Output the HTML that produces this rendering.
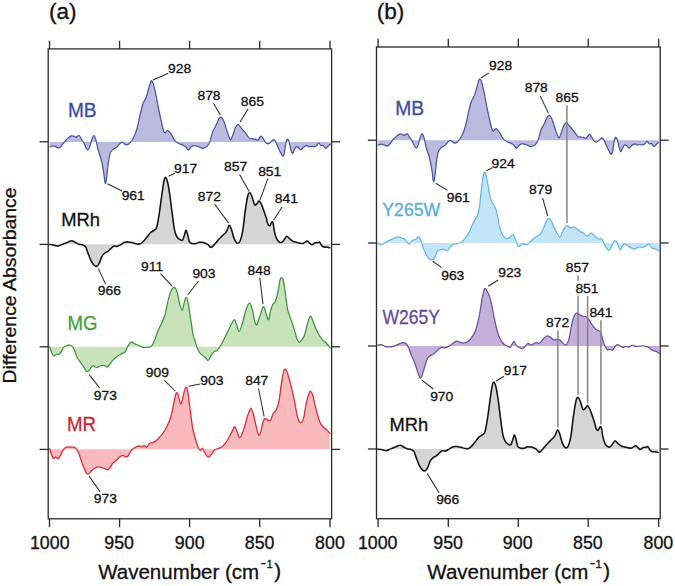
<!DOCTYPE html>
<html><head><meta charset="utf-8"><title>Difference spectra</title>
<style>html,body{margin:0;padding:0;background:#fff;}svg{display:block;font-family:"Liberation Sans",sans-serif;}</style>
</head><body>
<svg width="675" height="586" viewBox="0 0 675 586">
<rect width="100%" height="100%" fill="#ffffff"/>
<path d="M49.80,146.90C50.30,146.75 51.90,146.07 52.80,146.00C53.70,145.93 54.22,146.17 55.20,146.50C56.18,146.83 57.72,148.03 58.70,148.00C59.68,147.97 60.10,147.38 61.10,146.30C62.10,145.22 63.50,142.90 64.70,141.50C65.90,140.10 67.20,138.83 68.30,137.90C69.40,136.97 70.40,136.20 71.30,135.90C72.20,135.60 72.90,135.90 73.70,136.10C74.50,136.30 75.22,137.20 76.10,137.10C76.98,137.00 78.12,135.17 79.00,135.50C79.88,135.83 80.60,137.90 81.40,139.10C82.20,140.30 83.00,141.20 83.80,142.70C84.60,144.20 85.50,146.90 86.20,148.10C86.90,149.30 87.40,150.10 88.00,149.90C88.60,149.70 89.10,148.80 89.80,146.90C90.50,145.00 91.50,140.40 92.20,138.50C92.90,136.60 93.40,135.30 94.00,135.50C94.60,135.70 95.12,137.30 95.80,139.70C96.48,142.10 97.22,146.62 98.10,149.90C98.98,153.18 100.20,155.83 101.10,159.40C102.00,162.97 102.83,167.37 103.50,171.30C104.17,175.23 104.60,181.80 105.10,183.00C105.60,184.20 105.97,181.83 106.50,178.50C107.03,175.17 107.70,167.18 108.30,163.00C108.90,158.82 109.30,155.68 110.10,153.40C110.90,151.12 112.00,150.33 113.10,149.30C114.20,148.27 115.62,148.10 116.70,147.20C117.78,146.30 118.72,144.75 119.60,143.90C120.48,143.05 121.08,142.02 122.00,142.10C122.92,142.18 124.15,143.95 125.10,144.40C126.05,144.85 126.85,145.08 127.70,144.80C128.55,144.52 129.22,143.90 130.20,142.70C131.18,141.50 132.45,140.02 133.60,137.60C134.75,135.18 135.95,132.32 137.10,128.20C138.25,124.08 139.52,117.02 140.50,112.90C141.48,108.78 142.02,106.20 143.00,103.50C143.98,100.80 145.40,99.40 146.40,96.70C147.40,94.00 148.20,89.95 149.00,87.30C149.80,84.65 150.48,81.37 151.20,80.80C151.92,80.23 152.53,81.68 153.30,83.90C154.07,86.12 154.95,90.12 155.80,94.10C156.65,98.08 157.55,103.53 158.40,107.80C159.25,112.07 159.92,115.58 160.90,119.70C161.88,123.82 163.15,130.70 164.30,132.50C165.45,134.30 166.65,130.22 167.80,130.50C168.95,130.78 170.07,132.58 171.20,134.20C172.33,135.82 173.33,138.63 174.60,140.20C175.87,141.77 177.38,142.75 178.80,143.60C180.22,144.45 181.95,144.73 183.10,145.30C184.25,145.87 184.85,146.20 185.70,147.00C186.55,147.80 187.35,150.10 188.20,150.10C189.05,150.10 189.95,147.75 190.80,147.00C191.65,146.25 192.30,145.75 193.30,145.60C194.30,145.45 195.83,145.88 196.80,146.10C197.77,146.32 198.03,146.53 199.10,146.90C200.17,147.27 201.83,148.42 203.20,148.30C204.57,148.18 206.17,147.35 207.30,146.20C208.43,145.05 209.10,143.78 210.00,141.40C210.90,139.02 211.67,134.63 212.70,131.90C213.73,129.17 215.17,127.17 216.20,125.00C217.23,122.83 218.07,120.22 218.90,118.90C219.73,117.58 220.40,116.75 221.20,117.10C222.00,117.45 222.83,119.00 223.70,121.00C224.57,123.00 225.50,126.38 226.40,129.10C227.30,131.82 228.37,135.53 229.10,137.30C229.83,139.07 230.23,139.92 230.80,139.70C231.37,139.48 231.75,137.98 232.50,136.00C233.25,134.02 234.38,129.73 235.30,127.80C236.22,125.87 237.22,124.63 238.00,124.40C238.78,124.17 239.20,125.50 240.00,126.40C240.80,127.30 241.77,128.55 242.80,129.80C243.83,131.05 245.07,132.47 246.20,133.90C247.33,135.33 248.58,137.60 249.60,138.40C250.62,139.20 251.38,138.58 252.30,138.70C253.22,138.82 254.18,138.87 255.10,139.10C256.02,139.33 256.83,140.58 257.80,140.10C258.77,139.62 259.98,136.43 260.90,136.20C261.82,135.97 262.57,137.72 263.30,138.70C264.03,139.68 264.52,141.23 265.30,142.10C266.08,142.97 267.08,143.90 268.00,143.90C268.92,143.90 269.92,142.82 270.80,142.10C271.68,141.38 272.53,139.77 273.30,139.60C274.07,139.43 274.72,140.07 275.40,141.10C276.08,142.13 276.63,144.07 277.40,145.80C278.17,147.53 279.13,149.78 280.00,151.50C280.87,153.22 281.90,155.75 282.60,156.10C283.30,156.45 283.68,155.58 284.20,153.60C284.72,151.62 285.22,146.58 285.70,144.20C286.18,141.82 286.57,139.82 287.10,139.30C287.63,138.78 288.27,139.42 288.90,141.10C289.53,142.78 290.30,147.32 290.90,149.40C291.50,151.48 291.98,153.43 292.50,153.60C293.02,153.77 293.40,151.53 294.00,150.40C294.60,149.27 295.40,147.32 296.10,146.80C296.80,146.28 297.42,146.78 298.20,147.30C298.98,147.82 299.93,149.90 300.80,149.90C301.67,149.90 302.45,148.02 303.40,147.30C304.35,146.58 305.55,145.68 306.50,145.60C307.45,145.52 308.23,146.68 309.10,146.80C309.97,146.92 310.93,146.30 311.70,146.30C312.47,146.30 312.93,146.88 313.70,146.80C314.47,146.72 315.43,146.40 316.30,145.80C317.17,145.20 318.12,143.20 318.90,143.20C319.68,143.20 320.30,145.45 321.00,145.80C321.70,146.15 322.32,144.87 323.10,145.30C323.88,145.73 324.83,148.32 325.70,148.40C326.57,148.48 327.53,146.50 328.30,145.80C329.07,145.10 329.97,144.47 330.30,144.20L330.30,142.00L49.80,142.00Z" fill="#bdbadf" stroke="none"/>
<path d="M49.80,146.90C50.30,146.75 51.90,146.07 52.80,146.00C53.70,145.93 54.22,146.17 55.20,146.50C56.18,146.83 57.72,148.03 58.70,148.00C59.68,147.97 60.10,147.38 61.10,146.30C62.10,145.22 63.50,142.90 64.70,141.50C65.90,140.10 67.20,138.83 68.30,137.90C69.40,136.97 70.40,136.20 71.30,135.90C72.20,135.60 72.90,135.90 73.70,136.10C74.50,136.30 75.22,137.20 76.10,137.10C76.98,137.00 78.12,135.17 79.00,135.50C79.88,135.83 80.60,137.90 81.40,139.10C82.20,140.30 83.00,141.20 83.80,142.70C84.60,144.20 85.50,146.90 86.20,148.10C86.90,149.30 87.40,150.10 88.00,149.90C88.60,149.70 89.10,148.80 89.80,146.90C90.50,145.00 91.50,140.40 92.20,138.50C92.90,136.60 93.40,135.30 94.00,135.50C94.60,135.70 95.12,137.30 95.80,139.70C96.48,142.10 97.22,146.62 98.10,149.90C98.98,153.18 100.20,155.83 101.10,159.40C102.00,162.97 102.83,167.37 103.50,171.30C104.17,175.23 104.60,181.80 105.10,183.00C105.60,184.20 105.97,181.83 106.50,178.50C107.03,175.17 107.70,167.18 108.30,163.00C108.90,158.82 109.30,155.68 110.10,153.40C110.90,151.12 112.00,150.33 113.10,149.30C114.20,148.27 115.62,148.10 116.70,147.20C117.78,146.30 118.72,144.75 119.60,143.90C120.48,143.05 121.08,142.02 122.00,142.10C122.92,142.18 124.15,143.95 125.10,144.40C126.05,144.85 126.85,145.08 127.70,144.80C128.55,144.52 129.22,143.90 130.20,142.70C131.18,141.50 132.45,140.02 133.60,137.60C134.75,135.18 135.95,132.32 137.10,128.20C138.25,124.08 139.52,117.02 140.50,112.90C141.48,108.78 142.02,106.20 143.00,103.50C143.98,100.80 145.40,99.40 146.40,96.70C147.40,94.00 148.20,89.95 149.00,87.30C149.80,84.65 150.48,81.37 151.20,80.80C151.92,80.23 152.53,81.68 153.30,83.90C154.07,86.12 154.95,90.12 155.80,94.10C156.65,98.08 157.55,103.53 158.40,107.80C159.25,112.07 159.92,115.58 160.90,119.70C161.88,123.82 163.15,130.70 164.30,132.50C165.45,134.30 166.65,130.22 167.80,130.50C168.95,130.78 170.07,132.58 171.20,134.20C172.33,135.82 173.33,138.63 174.60,140.20C175.87,141.77 177.38,142.75 178.80,143.60C180.22,144.45 181.95,144.73 183.10,145.30C184.25,145.87 184.85,146.20 185.70,147.00C186.55,147.80 187.35,150.10 188.20,150.10C189.05,150.10 189.95,147.75 190.80,147.00C191.65,146.25 192.30,145.75 193.30,145.60C194.30,145.45 195.83,145.88 196.80,146.10C197.77,146.32 198.03,146.53 199.10,146.90C200.17,147.27 201.83,148.42 203.20,148.30C204.57,148.18 206.17,147.35 207.30,146.20C208.43,145.05 209.10,143.78 210.00,141.40C210.90,139.02 211.67,134.63 212.70,131.90C213.73,129.17 215.17,127.17 216.20,125.00C217.23,122.83 218.07,120.22 218.90,118.90C219.73,117.58 220.40,116.75 221.20,117.10C222.00,117.45 222.83,119.00 223.70,121.00C224.57,123.00 225.50,126.38 226.40,129.10C227.30,131.82 228.37,135.53 229.10,137.30C229.83,139.07 230.23,139.92 230.80,139.70C231.37,139.48 231.75,137.98 232.50,136.00C233.25,134.02 234.38,129.73 235.30,127.80C236.22,125.87 237.22,124.63 238.00,124.40C238.78,124.17 239.20,125.50 240.00,126.40C240.80,127.30 241.77,128.55 242.80,129.80C243.83,131.05 245.07,132.47 246.20,133.90C247.33,135.33 248.58,137.60 249.60,138.40C250.62,139.20 251.38,138.58 252.30,138.70C253.22,138.82 254.18,138.87 255.10,139.10C256.02,139.33 256.83,140.58 257.80,140.10C258.77,139.62 259.98,136.43 260.90,136.20C261.82,135.97 262.57,137.72 263.30,138.70C264.03,139.68 264.52,141.23 265.30,142.10C266.08,142.97 267.08,143.90 268.00,143.90C268.92,143.90 269.92,142.82 270.80,142.10C271.68,141.38 272.53,139.77 273.30,139.60C274.07,139.43 274.72,140.07 275.40,141.10C276.08,142.13 276.63,144.07 277.40,145.80C278.17,147.53 279.13,149.78 280.00,151.50C280.87,153.22 281.90,155.75 282.60,156.10C283.30,156.45 283.68,155.58 284.20,153.60C284.72,151.62 285.22,146.58 285.70,144.20C286.18,141.82 286.57,139.82 287.10,139.30C287.63,138.78 288.27,139.42 288.90,141.10C289.53,142.78 290.30,147.32 290.90,149.40C291.50,151.48 291.98,153.43 292.50,153.60C293.02,153.77 293.40,151.53 294.00,150.40C294.60,149.27 295.40,147.32 296.10,146.80C296.80,146.28 297.42,146.78 298.20,147.30C298.98,147.82 299.93,149.90 300.80,149.90C301.67,149.90 302.45,148.02 303.40,147.30C304.35,146.58 305.55,145.68 306.50,145.60C307.45,145.52 308.23,146.68 309.10,146.80C309.97,146.92 310.93,146.30 311.70,146.30C312.47,146.30 312.93,146.88 313.70,146.80C314.47,146.72 315.43,146.40 316.30,145.80C317.17,145.20 318.12,143.20 318.90,143.20C319.68,143.20 320.30,145.45 321.00,145.80C321.70,146.15 322.32,144.87 323.10,145.30C323.88,145.73 324.83,148.32 325.70,148.40C326.57,148.48 327.53,146.50 328.30,145.80C329.07,145.10 329.97,144.47 330.30,144.20" fill="none" stroke="#4250a2" stroke-width="1.20" stroke-linejoin="round" stroke-linecap="round"/>
<path d="M49.50,244.50C50.15,244.58 51.98,244.73 53.40,245.00C54.82,245.27 56.60,246.18 58.00,246.10C59.40,246.02 60.40,245.07 61.80,244.50C63.20,243.93 64.73,243.33 66.40,242.70C68.07,242.07 70.38,240.78 71.80,240.70C73.22,240.62 73.75,241.62 74.90,242.20C76.05,242.78 77.43,243.77 78.70,244.20C79.97,244.63 81.35,244.37 82.50,244.80C83.65,245.23 84.70,245.43 85.60,246.80C86.50,248.17 87.00,250.68 87.90,253.00C88.80,255.32 89.97,258.65 91.00,260.70C92.03,262.75 93.13,264.37 94.10,265.30C95.07,266.23 95.92,266.68 96.80,266.30C97.68,265.92 98.58,264.58 99.40,263.00C100.22,261.42 100.80,258.47 101.70,256.80C102.60,255.13 103.77,253.90 104.80,253.00C105.83,252.10 106.87,252.17 107.90,251.40C108.93,250.63 109.98,249.28 111.00,248.40C112.02,247.52 112.98,246.42 114.00,246.10C115.02,245.78 115.95,246.77 117.10,246.50C118.25,246.23 119.62,245.22 120.90,244.50C122.18,243.78 123.55,242.63 124.80,242.20C126.05,241.77 127.08,241.82 128.40,241.90C129.72,241.98 131.28,242.37 132.70,242.70C134.12,243.03 135.62,243.70 136.90,243.90C138.18,244.10 139.25,244.38 140.40,243.90C141.55,243.42 142.67,242.18 143.80,241.00C144.93,239.82 146.07,238.22 147.20,236.80C148.33,235.38 149.47,233.58 150.60,232.50C151.73,231.42 153.00,231.15 154.00,230.30C155.00,229.45 155.75,230.02 156.60,227.40C157.45,224.78 158.25,219.87 159.10,214.60C159.95,209.33 160.90,201.35 161.70,195.80C162.50,190.25 163.25,184.33 163.90,181.30C164.55,178.27 164.98,177.45 165.60,177.60C166.22,177.75 166.92,179.45 167.60,182.20C168.28,184.95 168.98,189.27 169.70,194.10C170.42,198.93 171.10,205.23 171.90,211.20C172.70,217.17 173.65,225.63 174.50,229.90C175.35,234.17 176.15,235.23 177.00,236.80C177.85,238.37 178.68,238.73 179.60,239.30C180.52,239.87 181.65,241.05 182.50,240.20C183.35,239.35 184.10,235.85 184.70,234.20C185.30,232.55 185.58,230.15 186.10,230.30C186.62,230.45 187.23,233.17 187.80,235.10C188.37,237.03 188.73,240.48 189.50,241.90C190.27,243.32 191.35,243.32 192.40,243.60C193.45,243.88 194.67,243.83 195.80,243.60C196.93,243.37 198.20,242.40 199.20,242.20C200.20,242.00 201.10,242.37 201.80,242.40C202.50,242.43 202.42,242.07 203.40,242.40C204.38,242.73 206.42,243.55 207.70,244.40C208.98,245.25 209.97,247.50 211.10,247.50C212.23,247.50 213.22,245.77 214.50,244.40C215.78,243.03 217.38,240.85 218.80,239.30C220.22,237.75 221.73,236.38 223.00,235.10C224.27,233.82 225.35,233.23 226.40,231.60C227.45,229.97 228.43,225.58 229.30,225.30C230.17,225.02 230.80,227.70 231.60,229.90C232.40,232.10 233.17,236.28 234.10,238.50C235.03,240.72 236.20,242.78 237.20,243.20C238.20,243.62 239.20,242.93 240.10,241.00C241.00,239.07 241.75,236.57 242.60,231.60C243.45,226.63 244.33,217.17 245.20,211.20C246.07,205.23 247.03,198.87 247.80,195.80C248.57,192.73 249.10,192.65 249.80,192.80C250.50,192.95 251.20,194.72 252.00,196.70C252.80,198.68 253.75,203.57 254.60,204.70C255.45,205.83 256.33,204.13 257.10,203.50C257.87,202.87 258.48,200.75 259.20,200.90C259.92,201.05 260.60,202.68 261.40,204.40C262.20,206.12 263.15,208.80 264.00,211.20C264.85,213.60 265.88,216.72 266.50,218.80C267.12,220.88 267.15,222.55 267.70,223.70C268.25,224.85 269.12,225.98 269.80,225.70C270.48,225.42 271.23,222.33 271.80,222.00C272.37,221.67 272.75,222.07 273.20,223.70C273.65,225.33 273.93,229.30 274.50,231.80C275.07,234.30 275.80,236.98 276.60,238.70C277.40,240.42 278.38,241.53 279.30,242.10C280.22,242.67 281.18,242.67 282.10,242.10C283.02,241.53 284.02,239.68 284.80,238.70C285.58,237.72 286.00,236.20 286.80,236.20C287.60,236.20 288.57,237.83 289.60,238.70C290.63,239.57 291.87,240.80 293.00,241.40C294.13,242.00 295.27,242.00 296.40,242.30C297.53,242.60 298.67,243.02 299.80,243.20C300.93,243.38 301.95,243.75 303.20,243.40C304.45,243.05 306.28,241.20 307.30,241.10C308.32,241.00 308.50,242.18 309.30,242.80C310.10,243.42 311.18,244.80 312.10,244.80C313.02,244.80 313.90,243.13 314.80,242.80C315.70,242.47 316.70,242.92 317.50,242.80C318.30,242.68 318.92,241.65 319.60,242.10C320.28,242.55 320.92,244.67 321.60,245.50C322.28,246.33 322.90,246.83 323.70,247.10C324.50,247.37 325.38,246.98 326.40,247.10C327.42,247.22 329.23,247.68 329.80,247.80L329.80,244.30L49.50,244.30Z" fill="#d5d5d5" stroke="none"/>
<path d="M49.50,244.50C50.15,244.58 51.98,244.73 53.40,245.00C54.82,245.27 56.60,246.18 58.00,246.10C59.40,246.02 60.40,245.07 61.80,244.50C63.20,243.93 64.73,243.33 66.40,242.70C68.07,242.07 70.38,240.78 71.80,240.70C73.22,240.62 73.75,241.62 74.90,242.20C76.05,242.78 77.43,243.77 78.70,244.20C79.97,244.63 81.35,244.37 82.50,244.80C83.65,245.23 84.70,245.43 85.60,246.80C86.50,248.17 87.00,250.68 87.90,253.00C88.80,255.32 89.97,258.65 91.00,260.70C92.03,262.75 93.13,264.37 94.10,265.30C95.07,266.23 95.92,266.68 96.80,266.30C97.68,265.92 98.58,264.58 99.40,263.00C100.22,261.42 100.80,258.47 101.70,256.80C102.60,255.13 103.77,253.90 104.80,253.00C105.83,252.10 106.87,252.17 107.90,251.40C108.93,250.63 109.98,249.28 111.00,248.40C112.02,247.52 112.98,246.42 114.00,246.10C115.02,245.78 115.95,246.77 117.10,246.50C118.25,246.23 119.62,245.22 120.90,244.50C122.18,243.78 123.55,242.63 124.80,242.20C126.05,241.77 127.08,241.82 128.40,241.90C129.72,241.98 131.28,242.37 132.70,242.70C134.12,243.03 135.62,243.70 136.90,243.90C138.18,244.10 139.25,244.38 140.40,243.90C141.55,243.42 142.67,242.18 143.80,241.00C144.93,239.82 146.07,238.22 147.20,236.80C148.33,235.38 149.47,233.58 150.60,232.50C151.73,231.42 153.00,231.15 154.00,230.30C155.00,229.45 155.75,230.02 156.60,227.40C157.45,224.78 158.25,219.87 159.10,214.60C159.95,209.33 160.90,201.35 161.70,195.80C162.50,190.25 163.25,184.33 163.90,181.30C164.55,178.27 164.98,177.45 165.60,177.60C166.22,177.75 166.92,179.45 167.60,182.20C168.28,184.95 168.98,189.27 169.70,194.10C170.42,198.93 171.10,205.23 171.90,211.20C172.70,217.17 173.65,225.63 174.50,229.90C175.35,234.17 176.15,235.23 177.00,236.80C177.85,238.37 178.68,238.73 179.60,239.30C180.52,239.87 181.65,241.05 182.50,240.20C183.35,239.35 184.10,235.85 184.70,234.20C185.30,232.55 185.58,230.15 186.10,230.30C186.62,230.45 187.23,233.17 187.80,235.10C188.37,237.03 188.73,240.48 189.50,241.90C190.27,243.32 191.35,243.32 192.40,243.60C193.45,243.88 194.67,243.83 195.80,243.60C196.93,243.37 198.20,242.40 199.20,242.20C200.20,242.00 201.10,242.37 201.80,242.40C202.50,242.43 202.42,242.07 203.40,242.40C204.38,242.73 206.42,243.55 207.70,244.40C208.98,245.25 209.97,247.50 211.10,247.50C212.23,247.50 213.22,245.77 214.50,244.40C215.78,243.03 217.38,240.85 218.80,239.30C220.22,237.75 221.73,236.38 223.00,235.10C224.27,233.82 225.35,233.23 226.40,231.60C227.45,229.97 228.43,225.58 229.30,225.30C230.17,225.02 230.80,227.70 231.60,229.90C232.40,232.10 233.17,236.28 234.10,238.50C235.03,240.72 236.20,242.78 237.20,243.20C238.20,243.62 239.20,242.93 240.10,241.00C241.00,239.07 241.75,236.57 242.60,231.60C243.45,226.63 244.33,217.17 245.20,211.20C246.07,205.23 247.03,198.87 247.80,195.80C248.57,192.73 249.10,192.65 249.80,192.80C250.50,192.95 251.20,194.72 252.00,196.70C252.80,198.68 253.75,203.57 254.60,204.70C255.45,205.83 256.33,204.13 257.10,203.50C257.87,202.87 258.48,200.75 259.20,200.90C259.92,201.05 260.60,202.68 261.40,204.40C262.20,206.12 263.15,208.80 264.00,211.20C264.85,213.60 265.88,216.72 266.50,218.80C267.12,220.88 267.15,222.55 267.70,223.70C268.25,224.85 269.12,225.98 269.80,225.70C270.48,225.42 271.23,222.33 271.80,222.00C272.37,221.67 272.75,222.07 273.20,223.70C273.65,225.33 273.93,229.30 274.50,231.80C275.07,234.30 275.80,236.98 276.60,238.70C277.40,240.42 278.38,241.53 279.30,242.10C280.22,242.67 281.18,242.67 282.10,242.10C283.02,241.53 284.02,239.68 284.80,238.70C285.58,237.72 286.00,236.20 286.80,236.20C287.60,236.20 288.57,237.83 289.60,238.70C290.63,239.57 291.87,240.80 293.00,241.40C294.13,242.00 295.27,242.00 296.40,242.30C297.53,242.60 298.67,243.02 299.80,243.20C300.93,243.38 301.95,243.75 303.20,243.40C304.45,243.05 306.28,241.20 307.30,241.10C308.32,241.00 308.50,242.18 309.30,242.80C310.10,243.42 311.18,244.80 312.10,244.80C313.02,244.80 313.90,243.13 314.80,242.80C315.70,242.47 316.70,242.92 317.50,242.80C318.30,242.68 318.92,241.65 319.60,242.10C320.28,242.55 320.92,244.67 321.60,245.50C322.28,246.33 322.90,246.83 323.70,247.10C324.50,247.37 325.38,246.98 326.40,247.10C327.42,247.22 329.23,247.68 329.80,247.80" fill="none" stroke="#111111" stroke-width="1.55" stroke-linejoin="round" stroke-linecap="round"/>
<path d="M49.80,346.80C50.13,347.83 51.08,351.47 51.80,353.00C52.52,354.53 53.33,355.83 54.10,356.00C54.87,356.17 55.63,354.25 56.40,354.00C57.17,353.75 57.92,354.80 58.70,354.50C59.48,354.20 60.32,353.35 61.10,352.20C61.88,351.05 62.52,348.67 63.40,347.60C64.28,346.53 65.38,346.23 66.40,345.80C67.42,345.37 68.47,344.83 69.50,345.00C70.53,345.17 71.70,345.73 72.60,346.80C73.50,347.87 74.13,349.60 74.90,351.40C75.67,353.20 76.32,355.80 77.20,357.60C78.08,359.40 79.18,360.80 80.20,362.20C81.22,363.60 82.27,364.47 83.30,366.00C84.33,367.53 85.50,370.58 86.40,371.40C87.30,372.22 87.93,371.53 88.70,370.90C89.47,370.27 90.23,368.47 91.00,367.60C91.77,366.73 92.40,365.70 93.30,365.70C94.20,365.70 95.38,367.50 96.40,367.60C97.42,367.70 98.38,366.68 99.40,366.30C100.42,365.92 101.47,365.35 102.50,365.30C103.53,365.25 104.83,365.70 105.60,366.00C106.37,366.30 106.47,367.35 107.10,367.10C107.73,366.85 108.50,365.57 109.40,364.50C110.30,363.43 111.47,361.85 112.50,360.70C113.53,359.55 114.45,358.55 115.60,357.60C116.75,356.65 118.13,355.77 119.40,355.00C120.67,354.23 122.27,353.48 123.20,353.00C124.13,352.52 124.13,353.38 125.00,352.10C125.87,350.82 127.32,347.00 128.40,345.30C129.48,343.60 130.50,342.18 131.50,341.90C132.50,341.62 133.22,343.03 134.40,343.60C135.58,344.17 137.18,344.68 138.60,345.30C140.02,345.92 141.47,346.97 142.90,347.30C144.33,347.63 145.78,347.50 147.20,347.30C148.62,347.10 150.12,347.43 151.40,346.10C152.68,344.77 153.75,342.00 154.90,339.30C156.05,336.60 157.17,332.60 158.30,329.90C159.43,327.20 160.57,325.65 161.70,323.10C162.83,320.55 164.12,318.02 165.10,314.60C166.08,311.18 166.60,306.58 167.60,302.60C168.60,298.62 170.02,293.25 171.10,290.70C172.18,288.15 173.12,287.15 174.10,287.30C175.08,287.45 176.08,288.90 177.00,291.60C177.92,294.30 178.75,300.38 179.60,303.50C180.45,306.62 181.40,310.15 182.10,310.30C182.80,310.45 183.17,306.53 183.80,304.40C184.43,302.27 185.18,297.80 185.90,297.50C186.62,297.20 187.30,298.90 188.10,302.60C188.90,306.30 189.85,314.28 190.70,319.70C191.55,325.12 192.48,331.58 193.20,335.10C193.92,338.62 194.23,338.45 195.00,340.80C195.77,343.15 196.87,347.02 197.80,349.20C198.73,351.38 199.50,352.65 200.60,353.90C201.70,355.15 203.15,355.60 204.40,356.70C205.65,357.80 207.00,360.65 208.10,360.50C209.20,360.35 210.05,357.22 211.00,355.80C211.95,354.38 212.72,352.95 213.80,352.00C214.88,351.05 216.25,351.35 217.50,350.10C218.75,348.85 220.05,346.68 221.30,344.50C222.55,342.32 223.75,339.50 225.00,337.00C226.25,334.50 227.70,331.70 228.80,329.50C229.90,327.30 230.67,325.43 231.60,323.80C232.53,322.17 233.55,319.53 234.40,319.70C235.25,319.87 235.92,322.85 236.70,324.80C237.48,326.75 238.22,331.40 239.10,331.40C239.98,331.40 240.90,328.25 242.00,324.80C243.10,321.35 244.45,314.30 245.70,310.70C246.95,307.10 248.40,303.35 249.50,303.20C250.60,303.05 251.22,306.20 252.30,309.80C253.38,313.40 254.75,323.72 256.00,324.80C257.25,325.88 258.55,319.33 259.80,316.30C261.05,313.27 262.42,306.90 263.50,306.60C264.58,306.30 265.47,312.32 266.30,314.50C267.13,316.68 267.80,320.27 268.50,319.70C269.20,319.13 269.82,313.60 270.50,311.10C271.18,308.60 271.75,306.40 272.60,304.70C273.45,303.00 274.67,303.23 275.60,300.90C276.53,298.57 277.48,294.10 278.20,290.70C278.92,287.30 279.33,282.68 279.90,280.50C280.47,278.32 281.03,277.60 281.60,277.60C282.17,277.60 282.73,278.32 283.30,280.50C283.87,282.68 284.28,285.88 285.00,290.70C285.72,295.52 286.60,304.57 287.60,309.40C288.60,314.23 289.87,316.28 291.00,319.70C292.13,323.12 293.42,326.78 294.40,329.90C295.38,333.02 296.05,336.33 296.90,338.40C297.75,340.47 298.63,342.15 299.50,342.30C300.37,342.45 301.25,340.52 302.10,339.30C302.95,338.08 303.75,337.42 304.60,335.00C305.45,332.58 306.27,327.93 307.20,324.80C308.13,321.67 309.22,316.77 310.20,316.20C311.18,315.63 312.18,319.40 313.10,321.40C314.02,323.40 314.70,325.93 315.70,328.20C316.70,330.47 317.97,333.07 319.10,335.00C320.23,336.93 321.37,338.52 322.50,339.80C323.63,341.08 324.62,341.37 325.90,342.70C327.18,344.03 329.48,346.95 330.20,347.80L330.20,346.80L49.80,346.80Z" fill="#c8e3b9" stroke="none"/>
<path d="M49.80,346.80C50.13,347.83 51.08,351.47 51.80,353.00C52.52,354.53 53.33,355.83 54.10,356.00C54.87,356.17 55.63,354.25 56.40,354.00C57.17,353.75 57.92,354.80 58.70,354.50C59.48,354.20 60.32,353.35 61.10,352.20C61.88,351.05 62.52,348.67 63.40,347.60C64.28,346.53 65.38,346.23 66.40,345.80C67.42,345.37 68.47,344.83 69.50,345.00C70.53,345.17 71.70,345.73 72.60,346.80C73.50,347.87 74.13,349.60 74.90,351.40C75.67,353.20 76.32,355.80 77.20,357.60C78.08,359.40 79.18,360.80 80.20,362.20C81.22,363.60 82.27,364.47 83.30,366.00C84.33,367.53 85.50,370.58 86.40,371.40C87.30,372.22 87.93,371.53 88.70,370.90C89.47,370.27 90.23,368.47 91.00,367.60C91.77,366.73 92.40,365.70 93.30,365.70C94.20,365.70 95.38,367.50 96.40,367.60C97.42,367.70 98.38,366.68 99.40,366.30C100.42,365.92 101.47,365.35 102.50,365.30C103.53,365.25 104.83,365.70 105.60,366.00C106.37,366.30 106.47,367.35 107.10,367.10C107.73,366.85 108.50,365.57 109.40,364.50C110.30,363.43 111.47,361.85 112.50,360.70C113.53,359.55 114.45,358.55 115.60,357.60C116.75,356.65 118.13,355.77 119.40,355.00C120.67,354.23 122.27,353.48 123.20,353.00C124.13,352.52 124.13,353.38 125.00,352.10C125.87,350.82 127.32,347.00 128.40,345.30C129.48,343.60 130.50,342.18 131.50,341.90C132.50,341.62 133.22,343.03 134.40,343.60C135.58,344.17 137.18,344.68 138.60,345.30C140.02,345.92 141.47,346.97 142.90,347.30C144.33,347.63 145.78,347.50 147.20,347.30C148.62,347.10 150.12,347.43 151.40,346.10C152.68,344.77 153.75,342.00 154.90,339.30C156.05,336.60 157.17,332.60 158.30,329.90C159.43,327.20 160.57,325.65 161.70,323.10C162.83,320.55 164.12,318.02 165.10,314.60C166.08,311.18 166.60,306.58 167.60,302.60C168.60,298.62 170.02,293.25 171.10,290.70C172.18,288.15 173.12,287.15 174.10,287.30C175.08,287.45 176.08,288.90 177.00,291.60C177.92,294.30 178.75,300.38 179.60,303.50C180.45,306.62 181.40,310.15 182.10,310.30C182.80,310.45 183.17,306.53 183.80,304.40C184.43,302.27 185.18,297.80 185.90,297.50C186.62,297.20 187.30,298.90 188.10,302.60C188.90,306.30 189.85,314.28 190.70,319.70C191.55,325.12 192.48,331.58 193.20,335.10C193.92,338.62 194.23,338.45 195.00,340.80C195.77,343.15 196.87,347.02 197.80,349.20C198.73,351.38 199.50,352.65 200.60,353.90C201.70,355.15 203.15,355.60 204.40,356.70C205.65,357.80 207.00,360.65 208.10,360.50C209.20,360.35 210.05,357.22 211.00,355.80C211.95,354.38 212.72,352.95 213.80,352.00C214.88,351.05 216.25,351.35 217.50,350.10C218.75,348.85 220.05,346.68 221.30,344.50C222.55,342.32 223.75,339.50 225.00,337.00C226.25,334.50 227.70,331.70 228.80,329.50C229.90,327.30 230.67,325.43 231.60,323.80C232.53,322.17 233.55,319.53 234.40,319.70C235.25,319.87 235.92,322.85 236.70,324.80C237.48,326.75 238.22,331.40 239.10,331.40C239.98,331.40 240.90,328.25 242.00,324.80C243.10,321.35 244.45,314.30 245.70,310.70C246.95,307.10 248.40,303.35 249.50,303.20C250.60,303.05 251.22,306.20 252.30,309.80C253.38,313.40 254.75,323.72 256.00,324.80C257.25,325.88 258.55,319.33 259.80,316.30C261.05,313.27 262.42,306.90 263.50,306.60C264.58,306.30 265.47,312.32 266.30,314.50C267.13,316.68 267.80,320.27 268.50,319.70C269.20,319.13 269.82,313.60 270.50,311.10C271.18,308.60 271.75,306.40 272.60,304.70C273.45,303.00 274.67,303.23 275.60,300.90C276.53,298.57 277.48,294.10 278.20,290.70C278.92,287.30 279.33,282.68 279.90,280.50C280.47,278.32 281.03,277.60 281.60,277.60C282.17,277.60 282.73,278.32 283.30,280.50C283.87,282.68 284.28,285.88 285.00,290.70C285.72,295.52 286.60,304.57 287.60,309.40C288.60,314.23 289.87,316.28 291.00,319.70C292.13,323.12 293.42,326.78 294.40,329.90C295.38,333.02 296.05,336.33 296.90,338.40C297.75,340.47 298.63,342.15 299.50,342.30C300.37,342.45 301.25,340.52 302.10,339.30C302.95,338.08 303.75,337.42 304.60,335.00C305.45,332.58 306.27,327.93 307.20,324.80C308.13,321.67 309.22,316.77 310.20,316.20C311.18,315.63 312.18,319.40 313.10,321.40C314.02,323.40 314.70,325.93 315.70,328.20C316.70,330.47 317.97,333.07 319.10,335.00C320.23,336.93 321.37,338.52 322.50,339.80C323.63,341.08 324.62,341.37 325.90,342.70C327.18,344.03 329.48,346.95 330.20,347.80" fill="none" stroke="#3b943b" stroke-width="1.25" stroke-linejoin="round" stroke-linecap="round"/>
<path d="M49.70,448.60C49.98,449.60 50.77,452.95 51.40,454.60C52.03,456.25 52.78,458.08 53.50,458.50C54.22,458.92 54.92,457.05 55.70,457.10C56.48,457.15 57.35,459.22 58.20,458.80C59.05,458.38 59.80,456.30 60.80,454.60C61.80,452.90 63.07,449.88 64.20,448.60C65.33,447.32 66.32,447.15 67.60,446.90C68.88,446.65 70.62,446.95 71.90,447.10C73.18,447.25 74.17,446.83 75.30,447.80C76.43,448.77 77.57,450.35 78.70,452.90C79.83,455.45 80.97,459.98 82.10,463.10C83.23,466.22 84.50,469.75 85.50,471.60C86.50,473.45 87.10,474.33 88.10,474.20C89.10,474.07 90.37,471.80 91.50,470.80C92.63,469.80 93.77,468.85 94.90,468.20C96.03,467.55 97.02,466.95 98.30,466.90C99.58,466.85 101.32,467.53 102.60,467.90C103.88,468.27 105.10,468.77 106.00,469.10C106.90,469.43 107.28,470.18 108.00,469.90C108.72,469.62 109.50,468.53 110.30,467.40C111.10,466.27 111.82,464.23 112.80,463.10C113.78,461.97 115.07,461.60 116.20,460.60C117.33,459.60 118.45,457.97 119.60,457.10C120.75,456.23 122.20,455.47 123.10,455.40C124.00,455.33 124.22,456.57 125.00,456.70C125.78,456.83 126.70,457.30 127.80,456.20C128.90,455.10 130.35,451.58 131.60,450.10C132.85,448.62 134.05,447.98 135.30,447.30C136.55,446.62 138.00,446.08 139.10,446.00C140.20,445.92 141.05,446.90 141.90,446.80C142.75,446.70 143.42,445.32 144.20,445.40C144.98,445.48 145.73,447.60 146.60,447.30C147.47,447.00 148.37,444.38 149.40,443.60C150.43,442.82 151.70,443.07 152.80,442.60C153.90,442.13 154.85,441.73 156.00,440.80C157.15,439.87 158.45,438.42 159.70,437.00C160.95,435.58 162.23,434.18 163.50,432.30C164.77,430.42 166.05,428.37 167.30,425.70C168.55,423.03 169.92,420.05 171.00,416.30C172.08,412.55 172.95,407.02 173.80,403.20C174.65,399.38 175.38,394.82 176.10,393.40C176.82,391.98 177.32,392.92 178.10,394.70C178.88,396.48 179.95,403.93 180.80,404.10C181.65,404.27 182.42,398.42 183.20,395.70C183.98,392.98 184.78,388.75 185.50,387.80C186.22,386.85 186.78,386.80 187.50,390.00C188.22,393.20 188.95,400.73 189.80,407.00C190.65,413.27 191.67,422.28 192.60,427.60C193.53,432.92 194.53,435.77 195.40,438.90C196.27,442.03 196.98,444.47 197.80,446.40C198.62,448.33 199.52,450.18 200.30,450.50C201.08,450.82 201.67,447.73 202.50,448.30C203.33,448.87 204.30,452.40 205.30,453.90C206.30,455.40 207.40,457.30 208.50,457.30C209.60,457.30 210.87,455.10 211.90,453.90C212.93,452.70 213.60,451.03 214.70,450.10C215.80,449.17 217.25,448.92 218.50,448.30C219.75,447.68 220.95,447.40 222.20,446.40C223.45,445.40 224.75,444.02 226.00,442.30C227.25,440.58 228.60,438.08 229.70,436.10C230.80,434.12 231.75,431.97 232.60,430.40C233.45,428.83 234.02,426.38 234.80,426.70C235.58,427.02 236.52,430.48 237.30,432.30C238.08,434.12 238.72,437.28 239.50,437.60C240.28,437.92 241.12,436.18 242.00,434.20C242.88,432.22 243.80,428.98 244.80,425.70C245.80,422.42 247.00,417.37 248.00,414.50C249.00,411.63 249.93,408.67 250.80,408.50C251.67,408.33 252.33,410.63 253.20,413.50C254.07,416.37 255.07,422.10 256.00,425.70C256.93,429.30 257.95,434.32 258.80,435.10C259.65,435.88 260.40,432.58 261.10,430.40C261.80,428.22 262.37,423.97 263.00,422.00C263.63,420.03 264.22,418.98 264.90,418.60C265.58,418.22 266.17,419.38 267.10,419.70C268.03,420.02 269.50,421.50 270.50,420.50C271.50,419.50 272.10,415.55 273.10,413.70C274.10,411.85 275.52,411.53 276.50,409.40C277.48,407.27 278.15,405.43 279.00,400.90C279.85,396.37 280.80,387.17 281.60,382.20C282.40,377.23 283.15,373.23 283.80,371.10C284.45,368.97 284.87,368.98 285.50,369.40C286.13,369.82 286.68,370.90 287.60,373.60C288.52,376.30 289.87,381.05 291.00,385.60C292.13,390.15 293.27,395.50 294.40,400.90C295.53,406.30 296.72,414.37 297.80,418.00C298.88,421.63 299.90,422.85 300.90,422.70C301.90,422.55 302.90,420.45 303.80,417.10C304.70,413.75 305.45,406.43 306.30,402.60C307.15,398.77 308.18,396.00 308.90,394.10C309.62,392.20 309.90,390.78 310.60,391.20C311.30,391.62 312.12,393.28 313.10,396.60C314.08,399.92 315.35,406.83 316.50,411.10C317.65,415.37 318.85,419.50 320.00,422.20C321.15,424.90 322.27,426.02 323.40,427.30C324.53,428.58 325.73,428.90 326.80,429.90C327.87,430.90 329.30,432.73 329.80,433.30L329.80,449.20L49.70,449.20Z" fill="#f8b9bd" stroke="none"/>
<path d="M49.70,448.60C49.98,449.60 50.77,452.95 51.40,454.60C52.03,456.25 52.78,458.08 53.50,458.50C54.22,458.92 54.92,457.05 55.70,457.10C56.48,457.15 57.35,459.22 58.20,458.80C59.05,458.38 59.80,456.30 60.80,454.60C61.80,452.90 63.07,449.88 64.20,448.60C65.33,447.32 66.32,447.15 67.60,446.90C68.88,446.65 70.62,446.95 71.90,447.10C73.18,447.25 74.17,446.83 75.30,447.80C76.43,448.77 77.57,450.35 78.70,452.90C79.83,455.45 80.97,459.98 82.10,463.10C83.23,466.22 84.50,469.75 85.50,471.60C86.50,473.45 87.10,474.33 88.10,474.20C89.10,474.07 90.37,471.80 91.50,470.80C92.63,469.80 93.77,468.85 94.90,468.20C96.03,467.55 97.02,466.95 98.30,466.90C99.58,466.85 101.32,467.53 102.60,467.90C103.88,468.27 105.10,468.77 106.00,469.10C106.90,469.43 107.28,470.18 108.00,469.90C108.72,469.62 109.50,468.53 110.30,467.40C111.10,466.27 111.82,464.23 112.80,463.10C113.78,461.97 115.07,461.60 116.20,460.60C117.33,459.60 118.45,457.97 119.60,457.10C120.75,456.23 122.20,455.47 123.10,455.40C124.00,455.33 124.22,456.57 125.00,456.70C125.78,456.83 126.70,457.30 127.80,456.20C128.90,455.10 130.35,451.58 131.60,450.10C132.85,448.62 134.05,447.98 135.30,447.30C136.55,446.62 138.00,446.08 139.10,446.00C140.20,445.92 141.05,446.90 141.90,446.80C142.75,446.70 143.42,445.32 144.20,445.40C144.98,445.48 145.73,447.60 146.60,447.30C147.47,447.00 148.37,444.38 149.40,443.60C150.43,442.82 151.70,443.07 152.80,442.60C153.90,442.13 154.85,441.73 156.00,440.80C157.15,439.87 158.45,438.42 159.70,437.00C160.95,435.58 162.23,434.18 163.50,432.30C164.77,430.42 166.05,428.37 167.30,425.70C168.55,423.03 169.92,420.05 171.00,416.30C172.08,412.55 172.95,407.02 173.80,403.20C174.65,399.38 175.38,394.82 176.10,393.40C176.82,391.98 177.32,392.92 178.10,394.70C178.88,396.48 179.95,403.93 180.80,404.10C181.65,404.27 182.42,398.42 183.20,395.70C183.98,392.98 184.78,388.75 185.50,387.80C186.22,386.85 186.78,386.80 187.50,390.00C188.22,393.20 188.95,400.73 189.80,407.00C190.65,413.27 191.67,422.28 192.60,427.60C193.53,432.92 194.53,435.77 195.40,438.90C196.27,442.03 196.98,444.47 197.80,446.40C198.62,448.33 199.52,450.18 200.30,450.50C201.08,450.82 201.67,447.73 202.50,448.30C203.33,448.87 204.30,452.40 205.30,453.90C206.30,455.40 207.40,457.30 208.50,457.30C209.60,457.30 210.87,455.10 211.90,453.90C212.93,452.70 213.60,451.03 214.70,450.10C215.80,449.17 217.25,448.92 218.50,448.30C219.75,447.68 220.95,447.40 222.20,446.40C223.45,445.40 224.75,444.02 226.00,442.30C227.25,440.58 228.60,438.08 229.70,436.10C230.80,434.12 231.75,431.97 232.60,430.40C233.45,428.83 234.02,426.38 234.80,426.70C235.58,427.02 236.52,430.48 237.30,432.30C238.08,434.12 238.72,437.28 239.50,437.60C240.28,437.92 241.12,436.18 242.00,434.20C242.88,432.22 243.80,428.98 244.80,425.70C245.80,422.42 247.00,417.37 248.00,414.50C249.00,411.63 249.93,408.67 250.80,408.50C251.67,408.33 252.33,410.63 253.20,413.50C254.07,416.37 255.07,422.10 256.00,425.70C256.93,429.30 257.95,434.32 258.80,435.10C259.65,435.88 260.40,432.58 261.10,430.40C261.80,428.22 262.37,423.97 263.00,422.00C263.63,420.03 264.22,418.98 264.90,418.60C265.58,418.22 266.17,419.38 267.10,419.70C268.03,420.02 269.50,421.50 270.50,420.50C271.50,419.50 272.10,415.55 273.10,413.70C274.10,411.85 275.52,411.53 276.50,409.40C277.48,407.27 278.15,405.43 279.00,400.90C279.85,396.37 280.80,387.17 281.60,382.20C282.40,377.23 283.15,373.23 283.80,371.10C284.45,368.97 284.87,368.98 285.50,369.40C286.13,369.82 286.68,370.90 287.60,373.60C288.52,376.30 289.87,381.05 291.00,385.60C292.13,390.15 293.27,395.50 294.40,400.90C295.53,406.30 296.72,414.37 297.80,418.00C298.88,421.63 299.90,422.85 300.90,422.70C301.90,422.55 302.90,420.45 303.80,417.10C304.70,413.75 305.45,406.43 306.30,402.60C307.15,398.77 308.18,396.00 308.90,394.10C309.62,392.20 309.90,390.78 310.60,391.20C311.30,391.62 312.12,393.28 313.10,396.60C314.08,399.92 315.35,406.83 316.50,411.10C317.65,415.37 318.85,419.50 320.00,422.20C321.15,424.90 322.27,426.02 323.40,427.30C324.53,428.58 325.73,428.90 326.80,429.90C327.87,430.90 329.30,432.73 329.80,433.30" fill="none" stroke="#d2303b" stroke-width="1.30" stroke-linejoin="round" stroke-linecap="round"/>
<path d="M378.10,145.10C378.60,144.95 380.20,144.27 381.10,144.20C382.00,144.13 382.52,144.37 383.50,144.70C384.48,145.03 386.02,146.23 387.00,146.20C387.98,146.17 388.40,145.58 389.40,144.50C390.40,143.42 391.80,141.10 393.00,139.70C394.20,138.30 395.50,137.03 396.60,136.10C397.70,135.17 398.70,134.40 399.60,134.10C400.50,133.80 401.20,134.10 402.00,134.30C402.80,134.50 403.52,135.40 404.40,135.30C405.28,135.20 406.42,133.37 407.30,133.70C408.18,134.03 408.90,136.10 409.70,137.30C410.50,138.50 411.30,139.40 412.10,140.90C412.90,142.40 413.80,145.10 414.50,146.30C415.20,147.50 415.70,148.30 416.30,148.10C416.90,147.90 417.40,147.00 418.10,145.10C418.80,143.20 419.80,138.60 420.50,136.70C421.20,134.80 421.70,133.50 422.30,133.70C422.90,133.90 423.42,135.50 424.10,137.90C424.78,140.30 425.52,144.82 426.40,148.10C427.28,151.38 428.50,154.03 429.40,157.60C430.30,161.17 431.13,165.57 431.80,169.50C432.47,173.43 432.90,180.00 433.40,181.20C433.90,182.40 434.27,180.03 434.80,176.70C435.33,173.37 436.00,165.38 436.60,161.20C437.20,157.02 437.60,153.88 438.40,151.60C439.20,149.32 440.30,148.53 441.40,147.50C442.50,146.47 443.92,146.30 445.00,145.40C446.08,144.50 447.02,142.95 447.90,142.10C448.78,141.25 449.38,140.22 450.30,140.30C451.22,140.38 452.45,142.15 453.40,142.60C454.35,143.05 455.15,143.28 456.00,143.00C456.85,142.72 457.52,142.10 458.50,140.90C459.48,139.70 460.75,138.22 461.90,135.80C463.05,133.38 464.25,130.52 465.40,126.40C466.55,122.28 467.82,115.22 468.80,111.10C469.78,106.98 470.32,104.40 471.30,101.70C472.28,99.00 473.70,97.60 474.70,94.90C475.70,92.20 476.50,88.15 477.30,85.50C478.10,82.85 478.78,79.57 479.50,79.00C480.22,78.43 480.83,79.88 481.60,82.10C482.37,84.32 483.25,88.32 484.10,92.30C484.95,96.28 485.85,101.73 486.70,106.00C487.55,110.27 488.22,113.78 489.20,117.90C490.18,122.02 491.45,128.90 492.60,130.70C493.75,132.50 494.95,128.42 496.10,128.70C497.25,128.98 498.37,130.78 499.50,132.40C500.63,134.02 501.63,136.83 502.90,138.40C504.17,139.97 505.68,140.95 507.10,141.80C508.52,142.65 510.25,142.93 511.40,143.50C512.55,144.07 513.15,144.40 514.00,145.20C514.85,146.00 515.65,148.30 516.50,148.30C517.35,148.30 518.25,145.95 519.10,145.20C519.95,144.45 520.60,143.95 521.60,143.80C522.60,143.65 524.13,144.08 525.10,144.30C526.07,144.52 526.33,144.73 527.40,145.10C528.47,145.47 530.13,146.62 531.50,146.50C532.87,146.38 534.47,145.55 535.60,144.40C536.73,143.25 537.40,141.98 538.30,139.60C539.20,137.22 539.97,132.83 541.00,130.10C542.03,127.37 543.47,125.37 544.50,123.20C545.53,121.03 546.37,118.42 547.20,117.10C548.03,115.78 548.70,114.95 549.50,115.30C550.30,115.65 551.13,117.20 552.00,119.20C552.87,121.20 553.80,124.58 554.70,127.30C555.60,130.02 556.67,133.73 557.40,135.50C558.13,137.27 558.53,138.12 559.10,137.90C559.67,137.68 560.05,136.18 560.80,134.20C561.55,132.22 562.68,127.93 563.60,126.00C564.52,124.07 565.52,122.83 566.30,122.60C567.08,122.37 567.50,123.70 568.30,124.60C569.10,125.50 570.07,126.75 571.10,128.00C572.13,129.25 573.37,130.67 574.50,132.10C575.63,133.53 576.88,135.80 577.90,136.60C578.92,137.40 579.68,136.78 580.60,136.90C581.52,137.02 582.48,137.07 583.40,137.30C584.32,137.53 585.13,138.78 586.10,138.30C587.07,137.82 588.28,134.63 589.20,134.40C590.12,134.17 590.87,135.92 591.60,136.90C592.33,137.88 592.82,139.43 593.60,140.30C594.38,141.17 595.38,142.10 596.30,142.10C597.22,142.10 598.22,141.02 599.10,140.30C599.98,139.58 600.83,137.97 601.60,137.80C602.37,137.63 603.02,138.27 603.70,139.30C604.38,140.33 604.93,142.27 605.70,144.00C606.47,145.73 607.43,147.98 608.30,149.70C609.17,151.42 610.20,153.95 610.90,154.30C611.60,154.65 611.98,153.78 612.50,151.80C613.02,149.82 613.52,144.78 614.00,142.40C614.48,140.02 614.87,138.02 615.40,137.50C615.93,136.98 616.57,137.62 617.20,139.30C617.83,140.98 618.60,145.52 619.20,147.60C619.80,149.68 620.28,151.63 620.80,151.80C621.32,151.97 621.70,149.73 622.30,148.60C622.90,147.47 623.70,145.52 624.40,145.00C625.10,144.48 625.72,144.98 626.50,145.50C627.28,146.02 628.23,148.10 629.10,148.10C629.97,148.10 630.75,146.22 631.70,145.50C632.65,144.78 633.85,143.88 634.80,143.80C635.75,143.72 636.53,144.88 637.40,145.00C638.27,145.12 639.23,144.50 640.00,144.50C640.77,144.50 641.23,145.08 642.00,145.00C642.77,144.92 643.73,144.60 644.60,144.00C645.47,143.40 646.42,141.40 647.20,141.40C647.98,141.40 648.60,143.65 649.30,144.00C650.00,144.35 650.62,143.07 651.40,143.50C652.18,143.93 653.13,146.52 654.00,146.60C654.87,146.68 655.83,144.70 656.60,144.00C657.37,143.30 658.27,142.67 658.60,142.40L658.60,140.20L378.10,140.20Z" fill="#bdbadf" stroke="none"/>
<path d="M378.10,145.10C378.60,144.95 380.20,144.27 381.10,144.20C382.00,144.13 382.52,144.37 383.50,144.70C384.48,145.03 386.02,146.23 387.00,146.20C387.98,146.17 388.40,145.58 389.40,144.50C390.40,143.42 391.80,141.10 393.00,139.70C394.20,138.30 395.50,137.03 396.60,136.10C397.70,135.17 398.70,134.40 399.60,134.10C400.50,133.80 401.20,134.10 402.00,134.30C402.80,134.50 403.52,135.40 404.40,135.30C405.28,135.20 406.42,133.37 407.30,133.70C408.18,134.03 408.90,136.10 409.70,137.30C410.50,138.50 411.30,139.40 412.10,140.90C412.90,142.40 413.80,145.10 414.50,146.30C415.20,147.50 415.70,148.30 416.30,148.10C416.90,147.90 417.40,147.00 418.10,145.10C418.80,143.20 419.80,138.60 420.50,136.70C421.20,134.80 421.70,133.50 422.30,133.70C422.90,133.90 423.42,135.50 424.10,137.90C424.78,140.30 425.52,144.82 426.40,148.10C427.28,151.38 428.50,154.03 429.40,157.60C430.30,161.17 431.13,165.57 431.80,169.50C432.47,173.43 432.90,180.00 433.40,181.20C433.90,182.40 434.27,180.03 434.80,176.70C435.33,173.37 436.00,165.38 436.60,161.20C437.20,157.02 437.60,153.88 438.40,151.60C439.20,149.32 440.30,148.53 441.40,147.50C442.50,146.47 443.92,146.30 445.00,145.40C446.08,144.50 447.02,142.95 447.90,142.10C448.78,141.25 449.38,140.22 450.30,140.30C451.22,140.38 452.45,142.15 453.40,142.60C454.35,143.05 455.15,143.28 456.00,143.00C456.85,142.72 457.52,142.10 458.50,140.90C459.48,139.70 460.75,138.22 461.90,135.80C463.05,133.38 464.25,130.52 465.40,126.40C466.55,122.28 467.82,115.22 468.80,111.10C469.78,106.98 470.32,104.40 471.30,101.70C472.28,99.00 473.70,97.60 474.70,94.90C475.70,92.20 476.50,88.15 477.30,85.50C478.10,82.85 478.78,79.57 479.50,79.00C480.22,78.43 480.83,79.88 481.60,82.10C482.37,84.32 483.25,88.32 484.10,92.30C484.95,96.28 485.85,101.73 486.70,106.00C487.55,110.27 488.22,113.78 489.20,117.90C490.18,122.02 491.45,128.90 492.60,130.70C493.75,132.50 494.95,128.42 496.10,128.70C497.25,128.98 498.37,130.78 499.50,132.40C500.63,134.02 501.63,136.83 502.90,138.40C504.17,139.97 505.68,140.95 507.10,141.80C508.52,142.65 510.25,142.93 511.40,143.50C512.55,144.07 513.15,144.40 514.00,145.20C514.85,146.00 515.65,148.30 516.50,148.30C517.35,148.30 518.25,145.95 519.10,145.20C519.95,144.45 520.60,143.95 521.60,143.80C522.60,143.65 524.13,144.08 525.10,144.30C526.07,144.52 526.33,144.73 527.40,145.10C528.47,145.47 530.13,146.62 531.50,146.50C532.87,146.38 534.47,145.55 535.60,144.40C536.73,143.25 537.40,141.98 538.30,139.60C539.20,137.22 539.97,132.83 541.00,130.10C542.03,127.37 543.47,125.37 544.50,123.20C545.53,121.03 546.37,118.42 547.20,117.10C548.03,115.78 548.70,114.95 549.50,115.30C550.30,115.65 551.13,117.20 552.00,119.20C552.87,121.20 553.80,124.58 554.70,127.30C555.60,130.02 556.67,133.73 557.40,135.50C558.13,137.27 558.53,138.12 559.10,137.90C559.67,137.68 560.05,136.18 560.80,134.20C561.55,132.22 562.68,127.93 563.60,126.00C564.52,124.07 565.52,122.83 566.30,122.60C567.08,122.37 567.50,123.70 568.30,124.60C569.10,125.50 570.07,126.75 571.10,128.00C572.13,129.25 573.37,130.67 574.50,132.10C575.63,133.53 576.88,135.80 577.90,136.60C578.92,137.40 579.68,136.78 580.60,136.90C581.52,137.02 582.48,137.07 583.40,137.30C584.32,137.53 585.13,138.78 586.10,138.30C587.07,137.82 588.28,134.63 589.20,134.40C590.12,134.17 590.87,135.92 591.60,136.90C592.33,137.88 592.82,139.43 593.60,140.30C594.38,141.17 595.38,142.10 596.30,142.10C597.22,142.10 598.22,141.02 599.10,140.30C599.98,139.58 600.83,137.97 601.60,137.80C602.37,137.63 603.02,138.27 603.70,139.30C604.38,140.33 604.93,142.27 605.70,144.00C606.47,145.73 607.43,147.98 608.30,149.70C609.17,151.42 610.20,153.95 610.90,154.30C611.60,154.65 611.98,153.78 612.50,151.80C613.02,149.82 613.52,144.78 614.00,142.40C614.48,140.02 614.87,138.02 615.40,137.50C615.93,136.98 616.57,137.62 617.20,139.30C617.83,140.98 618.60,145.52 619.20,147.60C619.80,149.68 620.28,151.63 620.80,151.80C621.32,151.97 621.70,149.73 622.30,148.60C622.90,147.47 623.70,145.52 624.40,145.00C625.10,144.48 625.72,144.98 626.50,145.50C627.28,146.02 628.23,148.10 629.10,148.10C629.97,148.10 630.75,146.22 631.70,145.50C632.65,144.78 633.85,143.88 634.80,143.80C635.75,143.72 636.53,144.88 637.40,145.00C638.27,145.12 639.23,144.50 640.00,144.50C640.77,144.50 641.23,145.08 642.00,145.00C642.77,144.92 643.73,144.60 644.60,144.00C645.47,143.40 646.42,141.40 647.20,141.40C647.98,141.40 648.60,143.65 649.30,144.00C650.00,144.35 650.62,143.07 651.40,143.50C652.18,143.93 653.13,146.52 654.00,146.60C654.87,146.68 655.83,144.70 656.60,144.00C657.37,143.30 658.27,142.67 658.60,142.40" fill="none" stroke="#4250a2" stroke-width="1.20" stroke-linejoin="round" stroke-linecap="round"/>
<path d="M377.80,243.00C378.30,243.33 379.65,245.00 380.80,245.00C381.95,245.00 383.28,243.77 384.70,243.00C386.12,242.23 387.90,241.10 389.30,240.40C390.70,239.70 391.70,239.40 393.10,238.80C394.50,238.20 396.28,236.95 397.70,236.80C399.12,236.65 400.45,237.52 401.60,237.90C402.75,238.28 403.72,238.43 404.60,239.10C405.48,239.77 406.13,241.07 406.90,241.90C407.67,242.73 408.43,244.18 409.20,244.10C409.97,244.02 410.72,242.10 411.50,241.40C412.28,240.70 413.12,240.28 413.90,239.90C414.68,239.52 415.43,239.67 416.20,239.10C416.97,238.53 417.73,236.37 418.50,236.50C419.27,236.63 420.03,238.05 420.80,239.90C421.57,241.75 422.22,245.17 423.10,247.60C423.98,250.03 425.08,252.63 426.10,254.50C427.12,256.37 428.17,257.90 429.20,258.80C430.23,259.70 431.40,260.10 432.30,259.90C433.20,259.70 433.83,258.88 434.60,257.60C435.37,256.32 436.00,253.48 436.90,252.20C437.80,250.92 438.98,250.42 440.00,249.90C441.02,249.38 442.12,249.05 443.00,249.10C443.88,249.15 444.53,249.93 445.30,250.20C446.07,250.47 446.70,251.32 447.60,250.70C448.50,250.08 449.67,247.60 450.70,246.50C451.73,245.40 452.78,244.53 453.80,244.10C454.82,243.67 455.52,244.25 456.80,243.90C458.08,243.55 460.10,242.93 461.50,242.00C462.90,241.07 463.95,239.87 465.20,238.30C466.45,236.73 467.90,234.63 469.00,232.60C470.10,230.57 470.87,228.13 471.80,226.10C472.73,224.07 473.67,222.13 474.60,220.40C475.53,218.67 476.62,217.73 477.40,215.70C478.18,213.67 478.67,212.27 479.30,208.20C479.93,204.13 480.58,196.47 481.20,191.30C481.82,186.13 482.47,180.38 483.00,177.20C483.53,174.02 483.92,172.67 484.40,172.20C484.88,171.73 485.25,172.00 485.90,174.40C486.55,176.80 487.52,182.53 488.30,186.60C489.08,190.67 489.75,195.82 490.60,198.80C491.45,201.78 492.47,202.62 493.40,204.50C494.33,206.38 495.27,206.82 496.20,210.10C497.13,213.38 498.07,220.28 499.00,224.20C499.93,228.12 500.70,231.25 501.80,233.60C502.90,235.95 504.35,237.58 505.60,238.30C506.85,239.02 508.05,238.53 509.30,237.90C510.55,237.27 512.15,234.43 513.10,234.50C514.05,234.57 514.38,236.88 515.00,238.30C515.62,239.72 516.18,241.60 516.80,243.00C517.42,244.40 517.75,246.55 518.70,246.70C519.65,246.85 521.25,244.22 522.50,243.90C523.75,243.58 525.22,244.80 526.20,244.80C527.18,244.80 527.47,244.67 528.40,243.90C529.33,243.13 530.52,241.38 531.80,240.20C533.08,239.02 534.67,237.80 536.10,236.80C537.53,235.80 539.12,235.77 540.40,234.20C541.68,232.63 542.73,229.67 543.80,227.40C544.87,225.13 545.95,222.12 546.80,220.60C547.65,219.08 548.13,218.17 548.90,218.30C549.67,218.43 550.55,219.88 551.40,221.40C552.25,222.92 553.13,225.55 554.00,227.40C554.87,229.25 555.60,230.88 556.60,232.50C557.60,234.12 559.02,237.25 560.00,237.10C560.98,236.95 561.65,233.22 562.50,231.60C563.35,229.98 564.30,228.38 565.10,227.40C565.90,226.42 566.45,225.62 567.30,225.70C568.15,225.78 569.15,227.70 570.20,227.90C571.25,228.10 572.47,226.70 573.60,226.90C574.73,227.10 575.87,228.32 577.00,229.10C578.13,229.88 579.27,230.90 580.40,231.60C581.53,232.30 582.65,232.53 583.80,233.30C584.95,234.07 586.15,236.25 587.30,236.20C588.45,236.15 589.57,233.18 590.70,233.00C591.83,232.82 593.03,234.27 594.10,235.10C595.17,235.93 596.27,237.32 597.10,238.00C597.93,238.68 598.42,239.12 599.10,239.20C599.78,239.28 600.50,238.10 601.20,238.50C601.90,238.90 602.52,240.13 603.30,241.60C604.08,243.07 605.03,245.83 605.90,247.30C606.77,248.77 607.72,250.22 608.50,250.40C609.28,250.58 609.83,249.60 610.60,248.40C611.37,247.20 612.28,244.55 613.10,243.20C613.92,241.85 614.80,240.30 615.50,240.30C616.20,240.30 616.73,241.93 617.30,243.20C617.87,244.47 618.38,246.83 618.90,247.90C619.42,248.97 619.80,249.95 620.40,249.60C621.00,249.25 621.80,246.70 622.50,245.80C623.20,244.90 623.83,244.28 624.60,244.20C625.37,244.12 626.25,244.82 627.10,245.30C627.95,245.78 628.83,246.58 629.70,247.10C630.57,247.62 631.52,248.05 632.30,248.40C633.08,248.75 633.62,249.28 634.40,249.20C635.18,249.12 636.13,248.27 637.00,247.90C637.87,247.53 638.65,247.07 639.60,247.00C640.55,246.93 641.67,247.70 642.70,247.50C643.73,247.30 644.80,246.35 645.80,245.80C646.80,245.25 647.92,244.20 648.70,244.20C649.48,244.20 649.95,245.13 650.50,245.80C651.05,246.47 651.32,247.73 652.00,248.20C652.68,248.67 653.73,248.32 654.60,248.60C655.47,248.88 656.50,249.55 657.20,249.90C657.90,250.25 658.53,250.57 658.80,250.70L658.80,243.00L377.80,243.00Z" fill="#c2e6f7" stroke="none"/>
<path d="M377.80,243.00C378.30,243.33 379.65,245.00 380.80,245.00C381.95,245.00 383.28,243.77 384.70,243.00C386.12,242.23 387.90,241.10 389.30,240.40C390.70,239.70 391.70,239.40 393.10,238.80C394.50,238.20 396.28,236.95 397.70,236.80C399.12,236.65 400.45,237.52 401.60,237.90C402.75,238.28 403.72,238.43 404.60,239.10C405.48,239.77 406.13,241.07 406.90,241.90C407.67,242.73 408.43,244.18 409.20,244.10C409.97,244.02 410.72,242.10 411.50,241.40C412.28,240.70 413.12,240.28 413.90,239.90C414.68,239.52 415.43,239.67 416.20,239.10C416.97,238.53 417.73,236.37 418.50,236.50C419.27,236.63 420.03,238.05 420.80,239.90C421.57,241.75 422.22,245.17 423.10,247.60C423.98,250.03 425.08,252.63 426.10,254.50C427.12,256.37 428.17,257.90 429.20,258.80C430.23,259.70 431.40,260.10 432.30,259.90C433.20,259.70 433.83,258.88 434.60,257.60C435.37,256.32 436.00,253.48 436.90,252.20C437.80,250.92 438.98,250.42 440.00,249.90C441.02,249.38 442.12,249.05 443.00,249.10C443.88,249.15 444.53,249.93 445.30,250.20C446.07,250.47 446.70,251.32 447.60,250.70C448.50,250.08 449.67,247.60 450.70,246.50C451.73,245.40 452.78,244.53 453.80,244.10C454.82,243.67 455.52,244.25 456.80,243.90C458.08,243.55 460.10,242.93 461.50,242.00C462.90,241.07 463.95,239.87 465.20,238.30C466.45,236.73 467.90,234.63 469.00,232.60C470.10,230.57 470.87,228.13 471.80,226.10C472.73,224.07 473.67,222.13 474.60,220.40C475.53,218.67 476.62,217.73 477.40,215.70C478.18,213.67 478.67,212.27 479.30,208.20C479.93,204.13 480.58,196.47 481.20,191.30C481.82,186.13 482.47,180.38 483.00,177.20C483.53,174.02 483.92,172.67 484.40,172.20C484.88,171.73 485.25,172.00 485.90,174.40C486.55,176.80 487.52,182.53 488.30,186.60C489.08,190.67 489.75,195.82 490.60,198.80C491.45,201.78 492.47,202.62 493.40,204.50C494.33,206.38 495.27,206.82 496.20,210.10C497.13,213.38 498.07,220.28 499.00,224.20C499.93,228.12 500.70,231.25 501.80,233.60C502.90,235.95 504.35,237.58 505.60,238.30C506.85,239.02 508.05,238.53 509.30,237.90C510.55,237.27 512.15,234.43 513.10,234.50C514.05,234.57 514.38,236.88 515.00,238.30C515.62,239.72 516.18,241.60 516.80,243.00C517.42,244.40 517.75,246.55 518.70,246.70C519.65,246.85 521.25,244.22 522.50,243.90C523.75,243.58 525.22,244.80 526.20,244.80C527.18,244.80 527.47,244.67 528.40,243.90C529.33,243.13 530.52,241.38 531.80,240.20C533.08,239.02 534.67,237.80 536.10,236.80C537.53,235.80 539.12,235.77 540.40,234.20C541.68,232.63 542.73,229.67 543.80,227.40C544.87,225.13 545.95,222.12 546.80,220.60C547.65,219.08 548.13,218.17 548.90,218.30C549.67,218.43 550.55,219.88 551.40,221.40C552.25,222.92 553.13,225.55 554.00,227.40C554.87,229.25 555.60,230.88 556.60,232.50C557.60,234.12 559.02,237.25 560.00,237.10C560.98,236.95 561.65,233.22 562.50,231.60C563.35,229.98 564.30,228.38 565.10,227.40C565.90,226.42 566.45,225.62 567.30,225.70C568.15,225.78 569.15,227.70 570.20,227.90C571.25,228.10 572.47,226.70 573.60,226.90C574.73,227.10 575.87,228.32 577.00,229.10C578.13,229.88 579.27,230.90 580.40,231.60C581.53,232.30 582.65,232.53 583.80,233.30C584.95,234.07 586.15,236.25 587.30,236.20C588.45,236.15 589.57,233.18 590.70,233.00C591.83,232.82 593.03,234.27 594.10,235.10C595.17,235.93 596.27,237.32 597.10,238.00C597.93,238.68 598.42,239.12 599.10,239.20C599.78,239.28 600.50,238.10 601.20,238.50C601.90,238.90 602.52,240.13 603.30,241.60C604.08,243.07 605.03,245.83 605.90,247.30C606.77,248.77 607.72,250.22 608.50,250.40C609.28,250.58 609.83,249.60 610.60,248.40C611.37,247.20 612.28,244.55 613.10,243.20C613.92,241.85 614.80,240.30 615.50,240.30C616.20,240.30 616.73,241.93 617.30,243.20C617.87,244.47 618.38,246.83 618.90,247.90C619.42,248.97 619.80,249.95 620.40,249.60C621.00,249.25 621.80,246.70 622.50,245.80C623.20,244.90 623.83,244.28 624.60,244.20C625.37,244.12 626.25,244.82 627.10,245.30C627.95,245.78 628.83,246.58 629.70,247.10C630.57,247.62 631.52,248.05 632.30,248.40C633.08,248.75 633.62,249.28 634.40,249.20C635.18,249.12 636.13,248.27 637.00,247.90C637.87,247.53 638.65,247.07 639.60,247.00C640.55,246.93 641.67,247.70 642.70,247.50C643.73,247.30 644.80,246.35 645.80,245.80C646.80,245.25 647.92,244.20 648.70,244.20C649.48,244.20 649.95,245.13 650.50,245.80C651.05,246.47 651.32,247.73 652.00,248.20C652.68,248.67 653.73,248.32 654.60,248.60C655.47,248.88 656.50,249.55 657.20,249.90C657.90,250.25 658.53,250.57 658.80,250.70" fill="none" stroke="#67b6e0" stroke-width="1.25" stroke-linejoin="round" stroke-linecap="round"/>
<path d="M377.90,345.20C378.47,345.12 380.17,344.50 381.30,344.70C382.43,344.90 383.43,346.03 384.70,346.40C385.97,346.77 387.48,346.90 388.90,346.90C390.32,346.90 391.77,346.77 393.20,346.40C394.63,346.03 395.93,345.33 397.50,344.70C399.07,344.07 401.18,342.80 402.60,342.60C404.02,342.40 405.00,342.63 406.00,343.50C407.00,344.37 407.75,345.95 408.60,347.80C409.45,349.65 410.12,352.18 411.10,354.60C412.08,357.02 413.42,359.47 414.50,362.30C415.58,365.13 416.68,368.97 417.60,371.60C418.52,374.23 419.23,377.52 420.00,378.10C420.77,378.68 421.40,377.03 422.20,375.10C423.00,373.17 423.95,369.22 424.80,366.50C425.65,363.78 426.45,360.57 427.30,358.80C428.15,357.03 428.90,356.67 429.90,355.90C430.90,355.13 432.32,354.85 433.30,354.20C434.28,353.55 434.95,352.78 435.80,352.00C436.65,351.22 437.40,350.27 438.40,349.50C439.40,348.73 440.67,347.68 441.80,347.40C442.93,347.12 444.07,347.97 445.20,347.80C446.33,347.63 447.45,347.03 448.60,346.40C449.75,345.77 450.80,344.88 452.10,344.00C453.40,343.12 455.00,341.37 456.40,341.10C457.80,340.83 459.18,342.08 460.50,342.40C461.82,342.72 463.05,343.13 464.30,343.00C465.55,342.87 466.75,342.55 468.00,341.60C469.25,340.65 470.55,339.10 471.80,337.30C473.05,335.50 474.25,334.40 475.50,330.80C476.75,327.20 478.20,321.03 479.30,315.70C480.40,310.37 481.32,303.02 482.10,298.80C482.88,294.58 483.47,292.12 484.00,290.40C484.53,288.68 484.68,288.18 485.30,288.50C485.92,288.82 486.82,290.42 487.70,292.30C488.58,294.18 489.65,296.22 490.60,299.80C491.55,303.38 492.47,309.27 493.40,313.80C494.33,318.33 495.27,323.23 496.20,327.00C497.13,330.77 497.90,333.73 499.00,336.40C500.10,339.07 501.55,341.43 502.80,343.00C504.05,344.57 505.25,345.08 506.50,345.80C507.75,346.52 509.35,347.62 510.30,347.30C511.25,346.98 511.58,344.87 512.20,343.90C512.82,342.93 513.38,341.35 514.00,341.50C514.62,341.65 515.12,343.83 515.90,344.80C516.68,345.77 517.60,346.67 518.70,347.30C519.80,347.93 521.40,348.78 522.50,348.60C523.60,348.42 524.42,347.05 525.30,346.20C526.18,345.35 526.92,343.73 527.80,343.50C528.68,343.27 529.65,344.73 530.60,344.80C531.55,344.87 532.55,344.30 533.50,343.90C534.45,343.50 535.47,342.47 536.30,342.40C537.13,342.33 537.72,343.63 538.50,343.50C539.28,343.37 540.12,342.47 541.00,341.60C541.88,340.73 542.77,339.27 543.80,338.30C544.83,337.33 546.10,335.97 547.20,335.80C548.30,335.63 549.25,336.58 550.40,337.30C551.55,338.02 552.95,339.78 554.10,340.10C555.25,340.42 556.37,339.25 557.30,339.20C558.23,339.15 558.82,339.17 559.70,339.80C560.58,340.43 561.50,342.17 562.60,343.00C563.70,343.83 565.22,345.58 566.30,344.80C567.38,344.02 568.22,341.58 569.10,338.30C569.98,335.02 570.75,328.87 571.60,325.10C572.45,321.33 573.27,317.73 574.20,315.70C575.13,313.67 576.27,313.05 577.20,312.90C578.13,312.75 578.80,314.23 579.80,314.80C580.80,315.37 582.17,315.98 583.20,316.30C584.23,316.62 585.07,316.17 586.00,316.70C586.93,317.23 587.85,318.25 588.80,319.50C589.75,320.75 590.58,322.63 591.70,324.20C592.82,325.77 594.42,327.83 595.50,328.90C596.58,329.97 597.33,330.03 598.20,330.60C599.07,331.17 600.02,331.10 600.70,332.30C601.38,333.50 601.70,335.75 602.30,337.80C602.90,339.85 603.50,342.60 604.30,344.60C605.10,346.60 606.18,349.00 607.10,349.80C608.02,350.60 608.90,349.35 609.80,349.40C610.70,349.45 611.70,350.43 612.50,350.10C613.30,349.77 613.80,348.32 614.60,347.40C615.40,346.48 616.38,344.83 617.30,344.60C618.22,344.37 619.18,345.53 620.10,346.00C621.02,346.47 621.90,347.35 622.80,347.40C623.70,347.45 624.58,346.35 625.50,346.30C626.42,346.25 627.38,347.15 628.30,347.10C629.22,347.05 630.22,346.30 631.00,346.00C631.78,345.70 632.20,345.23 633.00,345.30C633.80,345.37 634.88,346.23 635.80,346.40C636.72,346.57 637.60,346.37 638.50,346.30C639.40,346.23 640.28,346.05 641.20,346.00C642.12,345.95 643.08,345.93 644.00,346.00C644.92,346.07 645.80,346.05 646.70,346.40C647.60,346.75 648.48,347.48 649.40,348.10C650.32,348.72 651.28,349.58 652.20,350.10C653.12,350.62 654.12,350.93 654.90,351.20C655.68,351.47 656.22,351.32 656.90,351.70C657.58,352.08 658.65,353.20 659.00,353.50L659.00,346.00L377.90,346.00Z" fill="#c5afdb" stroke="none"/>
<path d="M377.90,345.20C378.47,345.12 380.17,344.50 381.30,344.70C382.43,344.90 383.43,346.03 384.70,346.40C385.97,346.77 387.48,346.90 388.90,346.90C390.32,346.90 391.77,346.77 393.20,346.40C394.63,346.03 395.93,345.33 397.50,344.70C399.07,344.07 401.18,342.80 402.60,342.60C404.02,342.40 405.00,342.63 406.00,343.50C407.00,344.37 407.75,345.95 408.60,347.80C409.45,349.65 410.12,352.18 411.10,354.60C412.08,357.02 413.42,359.47 414.50,362.30C415.58,365.13 416.68,368.97 417.60,371.60C418.52,374.23 419.23,377.52 420.00,378.10C420.77,378.68 421.40,377.03 422.20,375.10C423.00,373.17 423.95,369.22 424.80,366.50C425.65,363.78 426.45,360.57 427.30,358.80C428.15,357.03 428.90,356.67 429.90,355.90C430.90,355.13 432.32,354.85 433.30,354.20C434.28,353.55 434.95,352.78 435.80,352.00C436.65,351.22 437.40,350.27 438.40,349.50C439.40,348.73 440.67,347.68 441.80,347.40C442.93,347.12 444.07,347.97 445.20,347.80C446.33,347.63 447.45,347.03 448.60,346.40C449.75,345.77 450.80,344.88 452.10,344.00C453.40,343.12 455.00,341.37 456.40,341.10C457.80,340.83 459.18,342.08 460.50,342.40C461.82,342.72 463.05,343.13 464.30,343.00C465.55,342.87 466.75,342.55 468.00,341.60C469.25,340.65 470.55,339.10 471.80,337.30C473.05,335.50 474.25,334.40 475.50,330.80C476.75,327.20 478.20,321.03 479.30,315.70C480.40,310.37 481.32,303.02 482.10,298.80C482.88,294.58 483.47,292.12 484.00,290.40C484.53,288.68 484.68,288.18 485.30,288.50C485.92,288.82 486.82,290.42 487.70,292.30C488.58,294.18 489.65,296.22 490.60,299.80C491.55,303.38 492.47,309.27 493.40,313.80C494.33,318.33 495.27,323.23 496.20,327.00C497.13,330.77 497.90,333.73 499.00,336.40C500.10,339.07 501.55,341.43 502.80,343.00C504.05,344.57 505.25,345.08 506.50,345.80C507.75,346.52 509.35,347.62 510.30,347.30C511.25,346.98 511.58,344.87 512.20,343.90C512.82,342.93 513.38,341.35 514.00,341.50C514.62,341.65 515.12,343.83 515.90,344.80C516.68,345.77 517.60,346.67 518.70,347.30C519.80,347.93 521.40,348.78 522.50,348.60C523.60,348.42 524.42,347.05 525.30,346.20C526.18,345.35 526.92,343.73 527.80,343.50C528.68,343.27 529.65,344.73 530.60,344.80C531.55,344.87 532.55,344.30 533.50,343.90C534.45,343.50 535.47,342.47 536.30,342.40C537.13,342.33 537.72,343.63 538.50,343.50C539.28,343.37 540.12,342.47 541.00,341.60C541.88,340.73 542.77,339.27 543.80,338.30C544.83,337.33 546.10,335.97 547.20,335.80C548.30,335.63 549.25,336.58 550.40,337.30C551.55,338.02 552.95,339.78 554.10,340.10C555.25,340.42 556.37,339.25 557.30,339.20C558.23,339.15 558.82,339.17 559.70,339.80C560.58,340.43 561.50,342.17 562.60,343.00C563.70,343.83 565.22,345.58 566.30,344.80C567.38,344.02 568.22,341.58 569.10,338.30C569.98,335.02 570.75,328.87 571.60,325.10C572.45,321.33 573.27,317.73 574.20,315.70C575.13,313.67 576.27,313.05 577.20,312.90C578.13,312.75 578.80,314.23 579.80,314.80C580.80,315.37 582.17,315.98 583.20,316.30C584.23,316.62 585.07,316.17 586.00,316.70C586.93,317.23 587.85,318.25 588.80,319.50C589.75,320.75 590.58,322.63 591.70,324.20C592.82,325.77 594.42,327.83 595.50,328.90C596.58,329.97 597.33,330.03 598.20,330.60C599.07,331.17 600.02,331.10 600.70,332.30C601.38,333.50 601.70,335.75 602.30,337.80C602.90,339.85 603.50,342.60 604.30,344.60C605.10,346.60 606.18,349.00 607.10,349.80C608.02,350.60 608.90,349.35 609.80,349.40C610.70,349.45 611.70,350.43 612.50,350.10C613.30,349.77 613.80,348.32 614.60,347.40C615.40,346.48 616.38,344.83 617.30,344.60C618.22,344.37 619.18,345.53 620.10,346.00C621.02,346.47 621.90,347.35 622.80,347.40C623.70,347.45 624.58,346.35 625.50,346.30C626.42,346.25 627.38,347.15 628.30,347.10C629.22,347.05 630.22,346.30 631.00,346.00C631.78,345.70 632.20,345.23 633.00,345.30C633.80,345.37 634.88,346.23 635.80,346.40C636.72,346.57 637.60,346.37 638.50,346.30C639.40,346.23 640.28,346.05 641.20,346.00C642.12,345.95 643.08,345.93 644.00,346.00C644.92,346.07 645.80,346.05 646.70,346.40C647.60,346.75 648.48,347.48 649.40,348.10C650.32,348.72 651.28,349.58 652.20,350.10C653.12,350.62 654.12,350.93 654.90,351.20C655.68,351.47 656.22,351.32 656.90,351.70C657.58,352.08 658.65,353.20 659.00,353.50" fill="none" stroke="#6a509e" stroke-width="1.25" stroke-linejoin="round" stroke-linecap="round"/>
<path d="M377.80,449.10C378.45,449.18 380.28,449.33 381.70,449.60C383.12,449.87 384.90,450.78 386.30,450.70C387.70,450.62 388.70,449.67 390.10,449.10C391.50,448.53 393.03,447.93 394.70,447.30C396.37,446.67 398.68,445.38 400.10,445.30C401.52,445.22 402.05,446.22 403.20,446.80C404.35,447.38 405.73,448.37 407.00,448.80C408.27,449.23 409.65,448.97 410.80,449.40C411.95,449.83 413.00,450.03 413.90,451.40C414.80,452.77 415.30,455.28 416.20,457.60C417.10,459.92 418.27,463.25 419.30,465.30C420.33,467.35 421.43,468.97 422.40,469.90C423.37,470.83 424.22,471.28 425.10,470.90C425.98,470.52 426.88,469.18 427.70,467.60C428.52,466.02 429.10,463.07 430.00,461.40C430.90,459.73 432.07,458.50 433.10,457.60C434.13,456.70 435.17,456.77 436.20,456.00C437.23,455.23 438.28,453.88 439.30,453.00C440.32,452.12 441.28,451.02 442.30,450.70C443.32,450.38 444.25,451.37 445.40,451.10C446.55,450.83 447.92,449.82 449.20,449.10C450.48,448.38 451.85,447.23 453.10,446.80C454.35,446.37 455.38,446.42 456.70,446.50C458.02,446.58 459.58,446.97 461.00,447.30C462.42,447.63 463.92,448.30 465.20,448.50C466.48,448.70 467.55,448.98 468.70,448.50C469.85,448.02 470.97,446.78 472.10,445.60C473.23,444.42 474.37,442.82 475.50,441.40C476.63,439.98 477.77,438.18 478.90,437.10C480.03,436.02 481.30,435.75 482.30,434.90C483.30,434.05 484.05,434.62 484.90,432.00C485.75,429.38 486.55,424.47 487.40,419.20C488.25,413.93 489.20,405.95 490.00,400.40C490.80,394.85 491.55,388.93 492.20,385.90C492.85,382.87 493.28,382.05 493.90,382.20C494.52,382.35 495.22,384.05 495.90,386.80C496.58,389.55 497.28,393.87 498.00,398.70C498.72,403.53 499.40,409.83 500.20,415.80C501.00,421.77 501.95,430.23 502.80,434.50C503.65,438.77 504.45,439.83 505.30,441.40C506.15,442.97 506.98,443.33 507.90,443.90C508.82,444.47 509.95,445.65 510.80,444.80C511.65,443.95 512.40,440.45 513.00,438.80C513.60,437.15 513.88,434.75 514.40,434.90C514.92,435.05 515.53,437.77 516.10,439.70C516.67,441.63 517.03,445.08 517.80,446.50C518.57,447.92 519.65,447.92 520.70,448.20C521.75,448.48 522.97,448.43 524.10,448.20C525.23,447.97 526.50,447.00 527.50,446.80C528.50,446.60 529.40,446.97 530.10,447.00C530.80,447.03 530.72,446.67 531.70,447.00C532.68,447.33 534.72,448.15 536.00,449.00C537.28,449.85 538.27,452.10 539.40,452.10C540.53,452.10 541.52,450.37 542.80,449.00C544.08,447.63 545.68,445.45 547.10,443.90C548.52,442.35 550.03,440.98 551.30,439.70C552.57,438.42 553.65,437.83 554.70,436.20C555.75,434.57 556.73,430.18 557.60,429.90C558.47,429.62 559.10,432.30 559.90,434.50C560.70,436.70 561.47,440.88 562.40,443.10C563.33,445.32 564.50,447.38 565.50,447.80C566.50,448.22 567.50,447.53 568.40,445.60C569.30,443.67 570.05,441.17 570.90,436.20C571.75,431.23 572.63,421.77 573.50,415.80C574.37,409.83 575.33,403.47 576.10,400.40C576.87,397.33 577.40,397.25 578.10,397.40C578.80,397.55 579.50,399.32 580.30,401.30C581.10,403.28 582.05,408.17 582.90,409.30C583.75,410.43 584.63,408.73 585.40,408.10C586.17,407.47 586.78,405.35 587.50,405.50C588.22,405.65 588.90,407.28 589.70,409.00C590.50,410.72 591.45,413.40 592.30,415.80C593.15,418.20 594.18,421.32 594.80,423.40C595.42,425.48 595.45,427.15 596.00,428.30C596.55,429.45 597.42,430.58 598.10,430.30C598.78,430.02 599.53,426.93 600.10,426.60C600.67,426.27 601.05,426.67 601.50,428.30C601.95,429.93 602.23,433.90 602.80,436.40C603.37,438.90 604.10,441.58 604.90,443.30C605.70,445.02 606.68,446.13 607.60,446.70C608.52,447.27 609.48,447.27 610.40,446.70C611.32,446.13 612.32,444.28 613.10,443.30C613.88,442.32 614.30,440.80 615.10,440.80C615.90,440.80 616.87,442.43 617.90,443.30C618.93,444.17 620.17,445.40 621.30,446.00C622.43,446.60 623.57,446.60 624.70,446.90C625.83,447.20 626.97,447.62 628.10,447.80C629.23,447.98 630.25,448.35 631.50,448.00C632.75,447.65 634.58,445.80 635.60,445.70C636.62,445.60 636.80,446.78 637.60,447.40C638.40,448.02 639.48,449.40 640.40,449.40C641.32,449.40 642.20,447.73 643.10,447.40C644.00,447.07 645.00,447.52 645.80,447.40C646.60,447.28 647.22,446.25 647.90,446.70C648.58,447.15 649.22,449.27 649.90,450.10C650.58,450.93 651.20,451.43 652.00,451.70C652.80,451.97 653.68,451.58 654.70,451.70C655.72,451.82 657.53,452.28 658.10,452.40L658.10,448.90L377.80,448.90Z" fill="#d5d5d5" stroke="none"/>
<path d="M377.80,449.10C378.45,449.18 380.28,449.33 381.70,449.60C383.12,449.87 384.90,450.78 386.30,450.70C387.70,450.62 388.70,449.67 390.10,449.10C391.50,448.53 393.03,447.93 394.70,447.30C396.37,446.67 398.68,445.38 400.10,445.30C401.52,445.22 402.05,446.22 403.20,446.80C404.35,447.38 405.73,448.37 407.00,448.80C408.27,449.23 409.65,448.97 410.80,449.40C411.95,449.83 413.00,450.03 413.90,451.40C414.80,452.77 415.30,455.28 416.20,457.60C417.10,459.92 418.27,463.25 419.30,465.30C420.33,467.35 421.43,468.97 422.40,469.90C423.37,470.83 424.22,471.28 425.10,470.90C425.98,470.52 426.88,469.18 427.70,467.60C428.52,466.02 429.10,463.07 430.00,461.40C430.90,459.73 432.07,458.50 433.10,457.60C434.13,456.70 435.17,456.77 436.20,456.00C437.23,455.23 438.28,453.88 439.30,453.00C440.32,452.12 441.28,451.02 442.30,450.70C443.32,450.38 444.25,451.37 445.40,451.10C446.55,450.83 447.92,449.82 449.20,449.10C450.48,448.38 451.85,447.23 453.10,446.80C454.35,446.37 455.38,446.42 456.70,446.50C458.02,446.58 459.58,446.97 461.00,447.30C462.42,447.63 463.92,448.30 465.20,448.50C466.48,448.70 467.55,448.98 468.70,448.50C469.85,448.02 470.97,446.78 472.10,445.60C473.23,444.42 474.37,442.82 475.50,441.40C476.63,439.98 477.77,438.18 478.90,437.10C480.03,436.02 481.30,435.75 482.30,434.90C483.30,434.05 484.05,434.62 484.90,432.00C485.75,429.38 486.55,424.47 487.40,419.20C488.25,413.93 489.20,405.95 490.00,400.40C490.80,394.85 491.55,388.93 492.20,385.90C492.85,382.87 493.28,382.05 493.90,382.20C494.52,382.35 495.22,384.05 495.90,386.80C496.58,389.55 497.28,393.87 498.00,398.70C498.72,403.53 499.40,409.83 500.20,415.80C501.00,421.77 501.95,430.23 502.80,434.50C503.65,438.77 504.45,439.83 505.30,441.40C506.15,442.97 506.98,443.33 507.90,443.90C508.82,444.47 509.95,445.65 510.80,444.80C511.65,443.95 512.40,440.45 513.00,438.80C513.60,437.15 513.88,434.75 514.40,434.90C514.92,435.05 515.53,437.77 516.10,439.70C516.67,441.63 517.03,445.08 517.80,446.50C518.57,447.92 519.65,447.92 520.70,448.20C521.75,448.48 522.97,448.43 524.10,448.20C525.23,447.97 526.50,447.00 527.50,446.80C528.50,446.60 529.40,446.97 530.10,447.00C530.80,447.03 530.72,446.67 531.70,447.00C532.68,447.33 534.72,448.15 536.00,449.00C537.28,449.85 538.27,452.10 539.40,452.10C540.53,452.10 541.52,450.37 542.80,449.00C544.08,447.63 545.68,445.45 547.10,443.90C548.52,442.35 550.03,440.98 551.30,439.70C552.57,438.42 553.65,437.83 554.70,436.20C555.75,434.57 556.73,430.18 557.60,429.90C558.47,429.62 559.10,432.30 559.90,434.50C560.70,436.70 561.47,440.88 562.40,443.10C563.33,445.32 564.50,447.38 565.50,447.80C566.50,448.22 567.50,447.53 568.40,445.60C569.30,443.67 570.05,441.17 570.90,436.20C571.75,431.23 572.63,421.77 573.50,415.80C574.37,409.83 575.33,403.47 576.10,400.40C576.87,397.33 577.40,397.25 578.10,397.40C578.80,397.55 579.50,399.32 580.30,401.30C581.10,403.28 582.05,408.17 582.90,409.30C583.75,410.43 584.63,408.73 585.40,408.10C586.17,407.47 586.78,405.35 587.50,405.50C588.22,405.65 588.90,407.28 589.70,409.00C590.50,410.72 591.45,413.40 592.30,415.80C593.15,418.20 594.18,421.32 594.80,423.40C595.42,425.48 595.45,427.15 596.00,428.30C596.55,429.45 597.42,430.58 598.10,430.30C598.78,430.02 599.53,426.93 600.10,426.60C600.67,426.27 601.05,426.67 601.50,428.30C601.95,429.93 602.23,433.90 602.80,436.40C603.37,438.90 604.10,441.58 604.90,443.30C605.70,445.02 606.68,446.13 607.60,446.70C608.52,447.27 609.48,447.27 610.40,446.70C611.32,446.13 612.32,444.28 613.10,443.30C613.88,442.32 614.30,440.80 615.10,440.80C615.90,440.80 616.87,442.43 617.90,443.30C618.93,444.17 620.17,445.40 621.30,446.00C622.43,446.60 623.57,446.60 624.70,446.90C625.83,447.20 626.97,447.62 628.10,447.80C629.23,447.98 630.25,448.35 631.50,448.00C632.75,447.65 634.58,445.80 635.60,445.70C636.62,445.60 636.80,446.78 637.60,447.40C638.40,448.02 639.48,449.40 640.40,449.40C641.32,449.40 642.20,447.73 643.10,447.40C644.00,447.07 645.00,447.52 645.80,447.40C646.60,447.28 647.22,446.25 647.90,446.70C648.58,447.15 649.22,449.27 649.90,450.10C650.58,450.93 651.20,451.43 652.00,451.70C652.80,451.97 653.68,451.58 654.70,451.70C655.72,451.82 657.53,452.28 658.10,452.40" fill="none" stroke="#111111" stroke-width="1.55" stroke-linejoin="round" stroke-linecap="round"/>
<line x1="566.90" y1="105.30" x2="566.90" y2="223.10" stroke="#858585" stroke-width="1.50"/>
<line x1="557.90" y1="330.40" x2="557.90" y2="427.40" stroke="#858585" stroke-width="1.50"/>
<line x1="578.00" y1="275.40" x2="578.00" y2="281.00" stroke="#858585" stroke-width="1.50"/>
<line x1="578.00" y1="295.50" x2="578.00" y2="395.00" stroke="#858585" stroke-width="1.50"/>
<line x1="587.60" y1="296.00" x2="587.60" y2="403.50" stroke="#858585" stroke-width="1.50"/>
<line x1="600.90" y1="320.30" x2="600.90" y2="424.50" stroke="#858585" stroke-width="1.50"/>
<line x1="152.90" y1="80.10" x2="168.30" y2="73.30" stroke="#2c2c2c" stroke-width="1.05"/>
<line x1="213.40" y1="103.20" x2="220.30" y2="114.80" stroke="#2c2c2c" stroke-width="1.05"/>
<line x1="248.20" y1="108.70" x2="240.00" y2="122.30" stroke="#2c2c2c" stroke-width="1.05"/>
<line x1="107.30" y1="183.70" x2="122.10" y2="191.00" stroke="#2c2c2c" stroke-width="1.05"/>
<line x1="168.50" y1="176.20" x2="175.00" y2="173.30" stroke="#2c2c2c" stroke-width="1.05"/>
<line x1="214.50" y1="204.00" x2="228.70" y2="223.10" stroke="#2c2c2c" stroke-width="1.05"/>
<line x1="239.60" y1="174.50" x2="249.10" y2="191.60" stroke="#2c2c2c" stroke-width="1.05"/>
<line x1="267.90" y1="178.40" x2="260.00" y2="200.10" stroke="#2c2c2c" stroke-width="1.05"/>
<line x1="282.10" y1="207.00" x2="273.50" y2="220.20" stroke="#2c2c2c" stroke-width="1.05"/>
<line x1="98.40" y1="268.60" x2="105.50" y2="284.10" stroke="#2c2c2c" stroke-width="1.05"/>
<line x1="160.50" y1="273.60" x2="172.40" y2="286.40" stroke="#2c2c2c" stroke-width="1.05"/>
<line x1="198.50" y1="281.00" x2="187.60" y2="295.00" stroke="#2c2c2c" stroke-width="1.05"/>
<line x1="259.80" y1="277.80" x2="263.00" y2="304.10" stroke="#2c2c2c" stroke-width="1.05"/>
<line x1="89.20" y1="374.60" x2="99.60" y2="387.90" stroke="#2c2c2c" stroke-width="1.05"/>
<line x1="164.40" y1="380.30" x2="175.30" y2="391.00" stroke="#2c2c2c" stroke-width="1.05"/>
<line x1="188.80" y1="386.30" x2="200.10" y2="384.00" stroke="#2c2c2c" stroke-width="1.05"/>
<line x1="258.50" y1="388.50" x2="264.10" y2="416.30" stroke="#2c2c2c" stroke-width="1.05"/>
<line x1="89.10" y1="476.10" x2="100.10" y2="491.90" stroke="#2c2c2c" stroke-width="1.05"/>
<line x1="481.10" y1="78.00" x2="488.90" y2="72.90" stroke="#2c2c2c" stroke-width="1.05"/>
<line x1="540.30" y1="96.10" x2="548.50" y2="113.40" stroke="#2c2c2c" stroke-width="1.05"/>
<line x1="435.80" y1="183.20" x2="447.50" y2="190.40" stroke="#2c2c2c" stroke-width="1.05"/>
<line x1="486.40" y1="170.70" x2="492.40" y2="167.80" stroke="#2c2c2c" stroke-width="1.05"/>
<line x1="542.60" y1="197.90" x2="547.70" y2="216.00" stroke="#2c2c2c" stroke-width="1.05"/>
<line x1="432.80" y1="261.30" x2="441.70" y2="267.60" stroke="#2c2c2c" stroke-width="1.05"/>
<line x1="488.30" y1="286.20" x2="498.10" y2="280.00" stroke="#2c2c2c" stroke-width="1.05"/>
<line x1="421.70" y1="379.80" x2="433.30" y2="389.00" stroke="#2c2c2c" stroke-width="1.05"/>
<line x1="496.00" y1="381.00" x2="504.00" y2="376.20" stroke="#2c2c2c" stroke-width="1.05"/>
<line x1="427.20" y1="473.60" x2="439.10" y2="492.70" stroke="#2c2c2c" stroke-width="1.05"/>
<rect x="48.20" y="48.90" width="283.40" height="469.90" fill="none" stroke="#2a2a2a" stroke-width="1.30"/>
<line x1="49.50" y1="40.70" x2="49.50" y2="48.90" stroke="#2a2a2a" stroke-width="1.30"/>
<line x1="49.50" y1="518.80" x2="49.50" y2="527.20" stroke="#2a2a2a" stroke-width="1.30"/>
<line x1="119.60" y1="40.70" x2="119.60" y2="48.90" stroke="#2a2a2a" stroke-width="1.30"/>
<line x1="119.60" y1="518.80" x2="119.60" y2="527.20" stroke="#2a2a2a" stroke-width="1.30"/>
<line x1="189.60" y1="40.70" x2="189.60" y2="48.90" stroke="#2a2a2a" stroke-width="1.30"/>
<line x1="189.60" y1="518.80" x2="189.60" y2="527.20" stroke="#2a2a2a" stroke-width="1.30"/>
<line x1="259.70" y1="40.70" x2="259.70" y2="48.90" stroke="#2a2a2a" stroke-width="1.30"/>
<line x1="259.70" y1="518.80" x2="259.70" y2="527.20" stroke="#2a2a2a" stroke-width="1.30"/>
<line x1="330.00" y1="40.70" x2="330.00" y2="48.90" stroke="#2a2a2a" stroke-width="1.30"/>
<line x1="330.00" y1="518.80" x2="330.00" y2="527.20" stroke="#2a2a2a" stroke-width="1.30"/>
<line x1="39.60" y1="141.80" x2="48.20" y2="141.80" stroke="#2a2a2a" stroke-width="1.30"/>
<line x1="331.60" y1="141.80" x2="340.00" y2="141.80" stroke="#2a2a2a" stroke-width="1.30"/>
<line x1="39.60" y1="244.40" x2="48.20" y2="244.40" stroke="#2a2a2a" stroke-width="1.30"/>
<line x1="331.60" y1="244.40" x2="340.00" y2="244.40" stroke="#2a2a2a" stroke-width="1.30"/>
<line x1="39.60" y1="346.80" x2="48.20" y2="346.80" stroke="#2a2a2a" stroke-width="1.30"/>
<line x1="331.60" y1="346.80" x2="340.00" y2="346.80" stroke="#2a2a2a" stroke-width="1.30"/>
<line x1="39.60" y1="449.40" x2="48.20" y2="449.40" stroke="#2a2a2a" stroke-width="1.30"/>
<line x1="331.60" y1="449.40" x2="340.00" y2="449.40" stroke="#2a2a2a" stroke-width="1.30"/>
<rect x="376.50" y="47.00" width="283.70" height="471.70" fill="none" stroke="#2a2a2a" stroke-width="1.30"/>
<line x1="378.10" y1="38.80" x2="378.10" y2="47.00" stroke="#2a2a2a" stroke-width="1.30"/>
<line x1="378.10" y1="518.70" x2="378.10" y2="527.10" stroke="#2a2a2a" stroke-width="1.30"/>
<line x1="448.30" y1="38.80" x2="448.30" y2="47.00" stroke="#2a2a2a" stroke-width="1.30"/>
<line x1="448.30" y1="518.70" x2="448.30" y2="527.10" stroke="#2a2a2a" stroke-width="1.30"/>
<line x1="518.30" y1="38.80" x2="518.30" y2="47.00" stroke="#2a2a2a" stroke-width="1.30"/>
<line x1="518.30" y1="518.70" x2="518.30" y2="527.10" stroke="#2a2a2a" stroke-width="1.30"/>
<line x1="588.20" y1="38.80" x2="588.20" y2="47.00" stroke="#2a2a2a" stroke-width="1.30"/>
<line x1="588.20" y1="518.70" x2="588.20" y2="527.10" stroke="#2a2a2a" stroke-width="1.30"/>
<line x1="658.70" y1="38.80" x2="658.70" y2="47.00" stroke="#2a2a2a" stroke-width="1.30"/>
<line x1="658.70" y1="518.70" x2="658.70" y2="527.10" stroke="#2a2a2a" stroke-width="1.30"/>
<line x1="367.90" y1="140.20" x2="376.50" y2="140.20" stroke="#2a2a2a" stroke-width="1.30"/>
<line x1="660.20" y1="140.20" x2="668.60" y2="140.20" stroke="#2a2a2a" stroke-width="1.30"/>
<line x1="367.90" y1="243.00" x2="376.50" y2="243.00" stroke="#2a2a2a" stroke-width="1.30"/>
<line x1="660.20" y1="243.00" x2="668.60" y2="243.00" stroke="#2a2a2a" stroke-width="1.30"/>
<line x1="367.90" y1="346.00" x2="376.50" y2="346.00" stroke="#2a2a2a" stroke-width="1.30"/>
<line x1="660.20" y1="346.00" x2="668.60" y2="346.00" stroke="#2a2a2a" stroke-width="1.30"/>
<line x1="367.90" y1="449.00" x2="376.50" y2="449.00" stroke="#2a2a2a" stroke-width="1.30"/>
<line x1="660.20" y1="449.00" x2="668.60" y2="449.00" stroke="#2a2a2a" stroke-width="1.30"/>
<g font-family='&quot;Liberation Sans&quot;, sans-serif' class="tx"><text transform="translate(168.10,73.22) scale(1.020,1)" font-size="13.60" fill="#111" stroke="#111" stroke-width="0.30">928</text>
<text transform="translate(197.43,99.72) scale(1.020,1)" font-size="13.60" fill="#111" stroke="#111" stroke-width="0.30">878</text>
<text transform="translate(240.77,105.52) scale(1.020,1)" font-size="13.60" fill="#111" stroke="#111" stroke-width="0.30">865</text>
<text transform="translate(121.63,199.83) scale(1.020,1)" font-size="13.60" fill="#111" stroke="#111" stroke-width="0.30">961</text>
<text transform="translate(174.00,172.98) scale(1.020,1)" font-size="13.60" fill="#111" stroke="#111" stroke-width="0.30">917</text>
<text transform="translate(197.74,200.93) scale(1.020,1)" font-size="13.60" fill="#111" stroke="#111" stroke-width="0.30">872</text>
<text transform="translate(224.04,170.93) scale(1.020,1)" font-size="13.60" fill="#111" stroke="#111" stroke-width="0.30">857</text>
<text transform="translate(258.17,175.78) scale(1.020,1)" font-size="13.60" fill="#111" stroke="#111" stroke-width="0.30">851</text>
<text transform="translate(274.82,202.98) scale(1.020,1)" font-size="13.60" fill="#111" stroke="#111" stroke-width="0.30">841</text>
<text transform="translate(97.80,294.88) scale(1.020,1)" font-size="13.60" fill="#111" stroke="#111" stroke-width="0.30">966</text>
<text transform="translate(141.05,271.23) scale(1.020,1)" font-size="13.60" fill="#111" stroke="#111" stroke-width="0.30">911</text>
<text transform="translate(192.40,277.72) scale(1.020,1)" font-size="13.60" fill="#111" stroke="#111" stroke-width="0.30">903</text>
<text transform="translate(247.48,274.53) scale(1.020,1)" font-size="13.60" fill="#111" stroke="#111" stroke-width="0.30">848</text>
<text transform="translate(93.75,400.38) scale(1.020,1)" font-size="13.60" fill="#111" stroke="#111" stroke-width="0.30">973</text>
<text transform="translate(145.72,376.88) scale(1.020,1)" font-size="13.60" fill="#111" stroke="#111" stroke-width="0.30">909</text>
<text transform="translate(200.30,385.38) scale(1.020,1)" font-size="13.60" fill="#111" stroke="#111" stroke-width="0.30">903</text>
<text transform="translate(245.19,385.38) scale(1.020,1)" font-size="13.60" fill="#111" stroke="#111" stroke-width="0.30">847</text>
<text transform="translate(93.75,503.48) scale(1.020,1)" font-size="13.60" fill="#111" stroke="#111" stroke-width="0.30">973</text>
<text transform="translate(489.05,70.22) scale(1.020,1)" font-size="13.60" fill="#111" stroke="#111" stroke-width="0.30">928</text>
<text transform="translate(524.68,91.83) scale(1.020,1)" font-size="13.60" fill="#111" stroke="#111" stroke-width="0.30">878</text>
<text transform="translate(555.47,102.08) scale(1.020,1)" font-size="13.60" fill="#111" stroke="#111" stroke-width="0.30">865</text>
<text transform="translate(446.68,201.53) scale(1.020,1)" font-size="13.60" fill="#111" stroke="#111" stroke-width="0.30">961</text>
<text transform="translate(491.50,167.58) scale(1.020,1)" font-size="13.60" fill="#111" stroke="#111" stroke-width="0.30">924</text>
<text transform="translate(529.10,193.93) scale(1.020,1)" font-size="13.60" fill="#111" stroke="#111" stroke-width="0.30">879</text>
<text transform="translate(441.20,279.88) scale(1.020,1)" font-size="13.60" fill="#111" stroke="#111" stroke-width="0.30">963</text>
<text transform="translate(498.20,277.18) scale(1.020,1)" font-size="13.60" fill="#111" stroke="#111" stroke-width="0.30">923</text>
<text transform="translate(565.79,272.32) scale(1.020,1)" font-size="13.60" fill="#111" stroke="#111" stroke-width="0.30">857</text>
<text transform="translate(575.42,292.98) scale(1.020,1)" font-size="13.60" fill="#111" stroke="#111" stroke-width="0.30">851</text>
<text transform="translate(546.09,326.78) scale(1.020,1)" font-size="13.60" fill="#111" stroke="#111" stroke-width="0.30">872</text>
<text transform="translate(589.42,316.88) scale(1.020,1)" font-size="13.60" fill="#111" stroke="#111" stroke-width="0.30">841</text>
<text transform="translate(430.16,401.38) scale(1.020,1)" font-size="13.60" fill="#111" stroke="#111" stroke-width="0.30">970</text>
<text transform="translate(503.85,374.93) scale(1.020,1)" font-size="13.60" fill="#111" stroke="#111" stroke-width="0.30">917</text>
<text transform="translate(436.15,504.38) scale(1.020,1)" font-size="13.60" fill="#111" stroke="#111" stroke-width="0.30">966</text>
<text transform="translate(67.93,117.40) scale(0.963,1)" font-size="19.78" fill="#3a4aa0" stroke="#3a4aa0" stroke-width="0.30">MB</text>
<text transform="translate(61.18,225.90) scale(0.966,1)" font-size="19.03" fill="#111" stroke="#111" stroke-width="0.30">MRh</text>
<text transform="translate(67.57,329.90) scale(0.920,1)" font-size="20.21" fill="#3f9f3f" stroke="#3f9f3f" stroke-width="0.30">MG</text>
<text transform="translate(67.06,430.90) scale(0.951,1)" font-size="19.64" fill="#cc2530" stroke="#cc2530" stroke-width="0.30">MR</text>
<text transform="translate(395.31,114.90) scale(0.981,1)" font-size="19.64" fill="#3a4aa0" stroke="#3a4aa0" stroke-width="0.30">MB</text>
<text transform="translate(382.30,215.51) scale(0.948,1)" font-size="18.66" fill="#58acdb" stroke="#58acdb" stroke-width="0.30">Y265W</text>
<text transform="translate(382.51,324.10) scale(0.886,1)" font-size="19.79" fill="#624c9a" stroke="#624c9a" stroke-width="0.30">W265Y</text>
<text transform="translate(389.49,430.90) scale(0.978,1)" font-size="18.76" fill="#111" stroke="#111" stroke-width="0.30">MRh</text>
<text x="48.99" y="18.75" font-size="22.60" fill="#111" stroke="#111" stroke-width="0.30">(a)</text>
<text x="376.74" y="19.10" font-size="22.60" fill="#111" stroke="#111" stroke-width="0.30">(b)</text>
<text x="29.99" y="548.72" font-size="17.80" fill="#111" stroke="#111" stroke-width="0.30">1000</text>
<text x="104.27" y="548.72" font-size="17.80" fill="#111" stroke="#111" stroke-width="0.30">950</text>
<text x="174.87" y="548.72" font-size="17.80" fill="#111" stroke="#111" stroke-width="0.30">900</text>
<text x="244.81" y="548.72" font-size="17.80" fill="#111" stroke="#111" stroke-width="0.30">850</text>
<text x="315.11" y="548.72" font-size="17.80" fill="#111" stroke="#111" stroke-width="0.30">800</text>
<text x="357.89" y="548.72" font-size="17.80" fill="#111" stroke="#111" stroke-width="0.30">1000</text>
<text x="433.27" y="548.72" font-size="17.80" fill="#111" stroke="#111" stroke-width="0.30">950</text>
<text x="502.87" y="548.72" font-size="17.80" fill="#111" stroke="#111" stroke-width="0.30">900</text>
<text x="573.01" y="548.72" font-size="17.80" fill="#111" stroke="#111" stroke-width="0.30">850</text>
<text x="643.51" y="548.72" font-size="17.80" fill="#111" stroke="#111" stroke-width="0.30">800</text>
<text x="98.20" y="579.30" font-size="20.50" fill="#111" stroke="#111" stroke-width="0.30">Wavenumber (cm</text>
<text transform="translate(260.56,566.76) scale(1.269,1)" font-size="13.00" fill="#111" stroke="#111" stroke-width="0.30">-</text>
<text x="266.39" y="567.85" font-size="11.20" fill="#111" stroke="#111" stroke-width="0.30">1</text>
<text x="274.16" y="578.15" font-size="20.50" fill="#111" stroke="#111" stroke-width="0.30">)</text>
<text x="427.30" y="579.30" font-size="20.50" fill="#111" stroke="#111" stroke-width="0.30">Wavenumber (cm</text>
<text transform="translate(589.66,566.76) scale(1.269,1)" font-size="13.00" fill="#111" stroke="#111" stroke-width="0.30">-</text>
<text x="595.49" y="567.85" font-size="11.20" fill="#111" stroke="#111" stroke-width="0.30">1</text>
<text x="603.26" y="578.15" font-size="20.50" fill="#111" stroke="#111" stroke-width="0.30">)</text>
<text transform="translate(16.20,383.50) rotate(-90) scale(1.0175,1)" font-size="19.10" fill="#111" stroke="#111" stroke-width="0.30">Difference Absorbance</text></g>
</svg>
</body></html>
